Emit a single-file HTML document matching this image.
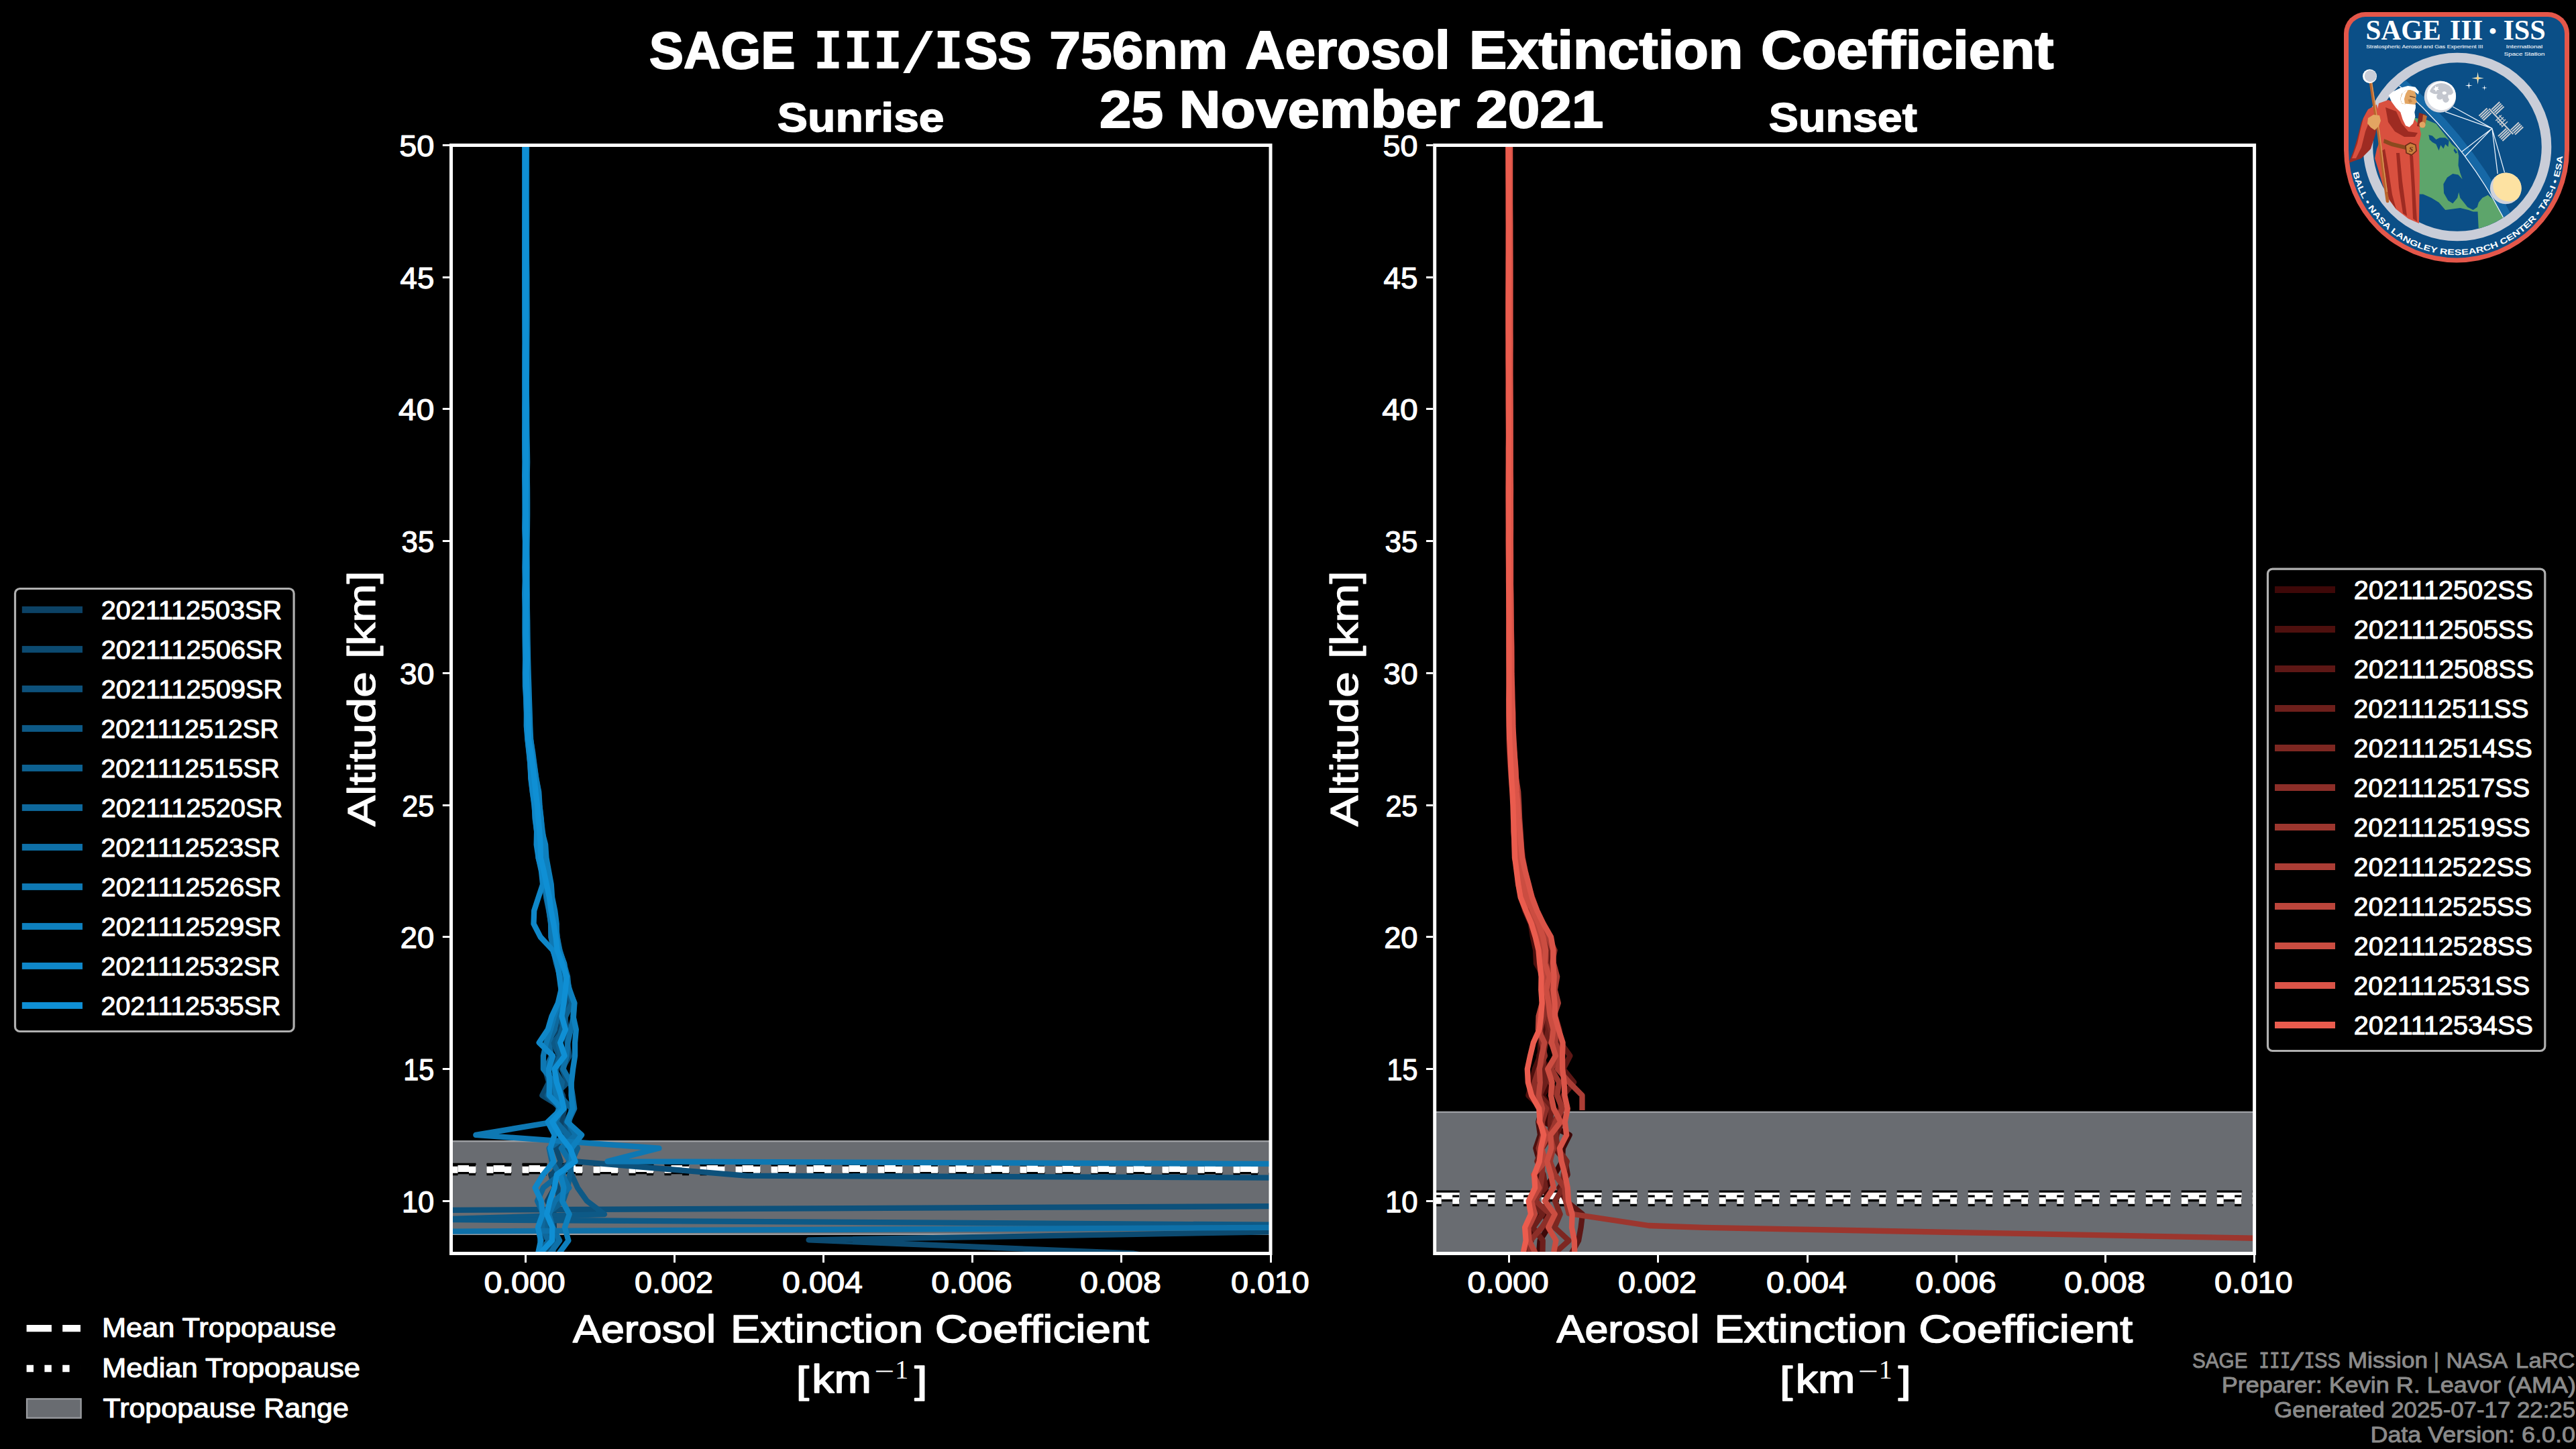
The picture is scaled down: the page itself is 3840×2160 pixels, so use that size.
<!DOCTYPE html>
<html><head><meta charset="utf-8"><title>SAGE III/ISS 756nm Aerosol Extinction Coefficient</title>
<style>html,body{margin:0;padding:0;background:#000;overflow:hidden}svg{display:block}</style></head>
<body>
<svg width="3840" height="2160" viewBox="0 0 3840 2160" font-family='"Liberation Sans", sans-serif'>
<rect width="3840" height="2160" fill="#000"/>
<text x="967.83" y="101.5" font-size="77.6" text-anchor="start" font-weight="bold" fill="#fff" stroke="#fff" stroke-width="1.94" stroke-linejoin="round" textLength="217.7" lengthAdjust="spacingAndGlyphs" >SAGE</text>
<text x="1212.36" y="101.5" font-size="75.9" text-anchor="start" font-weight="bold" fill="#fff" textLength="133.2" lengthAdjust="spacingAndGlyphs" font-family="'DejaVu Sans Mono', monospace">III</text><text x="1341.37" y="101.5" font-size="77" text-anchor="start" font-weight="bold" fill="#fff" textLength="54.7" lengthAdjust="spacingAndGlyphs" font-family="'DejaVu Sans Mono', monospace">/</text><text x="1391.57" y="101.5" font-size="75.9" text-anchor="start" font-weight="bold" fill="#fff" textLength="45.1" lengthAdjust="spacingAndGlyphs" font-family="'DejaVu Sans Mono', monospace">I</text><text x="1437.26" y="101.5" font-size="77.6" text-anchor="start" font-weight="bold" fill="#fff" stroke="#fff" stroke-width="1.94" stroke-linejoin="round" textLength="100.6" lengthAdjust="spacingAndGlyphs" >SS</text>
<text x="1564.36" y="101.5" font-size="78.6" text-anchor="start" font-weight="bold" fill="#fff" stroke="#fff" stroke-width="1.96" stroke-linejoin="round" textLength="266.1" lengthAdjust="spacingAndGlyphs" >756nm</text>
<text x="1856.23" y="101.5" font-size="78.8" text-anchor="start" font-weight="bold" fill="#fff" stroke="#fff" stroke-width="1.97" stroke-linejoin="round" textLength="305.6" lengthAdjust="spacingAndGlyphs" >Aerosol</text>
<text x="2190.12" y="101.5" font-size="78.8" text-anchor="start" font-weight="bold" fill="#fff" stroke="#fff" stroke-width="1.97" stroke-linejoin="round" textLength="408.3" lengthAdjust="spacingAndGlyphs" >Extinction</text>
<text x="2624.90" y="101.5" font-size="78.8" text-anchor="start" font-weight="bold" fill="#fff" stroke="#fff" stroke-width="1.97" stroke-linejoin="round" textLength="436.6" lengthAdjust="spacingAndGlyphs" >Coefficient</text>
<text x="1638.90" y="189.8" font-size="78.6" text-anchor="start" font-weight="bold" fill="#fff" stroke="#fff" stroke-width="1.96" stroke-linejoin="round" textLength="751.5" lengthAdjust="spacingAndGlyphs" >25 November 2021</text>
<text x="1158.80" y="195.9" font-size="61.2" text-anchor="start" font-weight="bold" fill="#fff" stroke="#fff" stroke-width="1.53" stroke-linejoin="round" textLength="248.8" lengthAdjust="spacingAndGlyphs" >Sunrise</text>
<text x="2636.82" y="195.9" font-size="61.2" text-anchor="start" font-weight="bold" fill="#fff" stroke="#fff" stroke-width="1.53" stroke-linejoin="round" textLength="221.0" lengthAdjust="spacingAndGlyphs" >Sunset</text>
<clipPath id="clipL"><rect x="672.5" y="216.5" width="1221.5" height="1652.0"/></clipPath>
<g clip-path="url(#clipL)">
<rect x="672.5" y="1701" width="1221.5" height="139" fill="#696c71"/>
<rect x="672.5" y="1700" width="1221.5" height="2.4" fill="#9c9ea2"/>
<rect x="672.5" y="1838.6" width="1221.5" height="2.4" fill="#9c9ea2"/>
<line x1="672.5" x2="1894.0" y1="1742.0" y2="1742.0" stroke="#000" stroke-width="16.7" stroke-dasharray="37 16"/>
<line x1="672.5" x2="1894.0" y1="1742.0" y2="1742.0" stroke="#fff" stroke-width="10" stroke-dasharray="37 16"/>
<line x1="672.5" x2="1894.0" y1="1743.8" y2="1743.8" stroke="#000" stroke-width="16.7" stroke-dasharray="10 16.5"/>
<line x1="672.5" x2="1894.0" y1="1743.8" y2="1743.8" stroke="#fff" stroke-width="10" stroke-dasharray="10 16.5"/>
<g fill="none" stroke-width="8.3" stroke-linejoin="round" stroke-linecap="butt">
<path d="M783.6,216.5 L783.7,236.2 L783.7,255.8 L783.7,275.5 L783.8,295.2 L783.7,314.9 L783.8,334.5 L783.8,354.2 L783.7,373.9 L783.8,393.6 L783.7,413.2 L783.7,432.9 L783.7,452.6 L783.8,472.2 L783.9,491.9 L784.0,511.6 L783.9,531.3 L783.9,550.9 L784.1,570.6 L784.1,590.3 L783.9,610.0 L784.1,629.6 L784.2,649.3 L784.0,669.0 L783.8,688.6 L783.9,708.3 L784.0,728.0 L784.1,747.7 L784.4,767.3 L784.2,787.0 L784.6,806.7 L784.3,826.4 L784.3,846.0 L784.6,865.7 L784.8,885.4 L784.9,905.0 L784.8,924.7 L784.8,944.4 L784.9,964.1 L785.1,983.7 L785.1,1003.4 L785.8,1023.1 L786.7,1042.8 L787.4,1062.4 L788.4,1082.1 L789.8,1101.8 L792.9,1121.4 L794.8,1141.1 L796.6,1160.8 L798.7,1180.5 L800.7,1200.1 L803.1,1219.8 L804.3,1239.5 L806.5,1259.1 L809.6,1278.8 L810.2,1298.5 L814.1,1318.2 L819.0,1337.8 L823.3,1357.5 L826.8,1377.2 L828.4,1396.9 L831.6,1416.5 L837.2,1436.2 L841.0,1455.9 L847.4,1475.5 L846.8,1495.2 L836.1,1514.9 L835.3,1534.6 L827.6,1554.2 L835.5,1573.9 L812.8,1593.6 L829.2,1613.3 L838.9,1632.9 L841.5,1652.6 L836.9,1672.3 L853.6,1691.9 L844.2,1711.6 L853.1,1731.3 L821.2,1751.0 L826.8,1770.6 L815.8,1790.3 L825.1,1810.0 L825.9,1829.7 L804.9,1849.3 L818.2,1869.0 L810.9,1888.7" stroke="#0c4265"/>
<path d="M783.0,216.5 L783.0,236.2 L782.9,255.8 L783.0,275.5 L783.1,295.2 L783.2,314.9 L783.3,334.5 L783.5,354.2 L783.6,373.9 L783.6,393.6 L783.8,413.2 L783.5,432.9 L783.5,452.6 L783.3,472.2 L783.2,491.9 L783.2,511.6 L783.1,531.3 L783.2,550.9 L783.1,570.6 L783.1,590.3 L783.5,610.0 L783.6,629.6 L783.6,649.3 L783.6,669.0 L784.0,688.6 L784.0,708.3 L784.0,728.0 L783.5,747.7 L783.5,767.3 L783.2,787.0 L783.5,806.7 L783.8,826.4 L783.5,846.0 L784.1,865.7 L784.3,885.4 L784.3,905.0 L784.1,924.7 L784.8,944.4 L784.7,964.1 L784.6,983.7 L784.7,1003.4 L785.1,1023.1 L785.8,1042.8 L785.5,1062.4 L786.6,1082.1 L788.2,1101.8 L790.9,1121.4 L792.9,1141.1 L795.1,1160.8 L798.6,1180.5 L800.6,1200.1 L802.5,1219.8 L805.0,1239.5 L805.8,1259.1 L805.3,1278.8 L809.1,1298.5 L811.1,1318.2 L816.3,1337.8 L819.9,1357.5 L822.4,1377.2 L825.4,1396.9 L829.2,1416.5 L835.1,1436.2 L842.4,1455.9 L843.3,1475.5 L846.4,1495.2 L842.3,1514.9 L844.6,1534.6 L825.3,1554.2 L835.8,1573.9 L812.5,1593.6 L818.1,1613.3 L808.3,1632.9 L840.3,1652.6 L822.4,1672.3 L837.7,1691.9 L828.8,1711.6 L835.7,1731.3 L823.4,1751.0 L831.5,1770.6 L832.6,1790.3 L824.0,1810.0 L818.2,1829.7 L826.9,1849.3 L809.0,1869.0 L803.2,1888.7" stroke="#0c4a70"/>
<path d="M1920.0,1836.0 L1205.6,1848.3 L1690.0,1868.5 L1760.0,1882.0" stroke="#0c4a70"/>
<path d="M784.1,216.5 L784.0,236.2 L784.0,255.8 L784.0,275.5 L783.9,295.2 L783.9,314.9 L783.9,334.5 L783.9,354.2 L783.9,373.9 L784.0,393.6 L784.2,413.2 L784.2,432.9 L784.2,452.6 L784.3,472.2 L784.2,491.9 L784.3,511.6 L784.1,531.3 L784.2,550.9 L783.9,570.6 L784.1,590.3 L784.0,610.0 L783.9,629.6 L784.3,649.3 L784.3,669.0 L784.2,688.6 L784.4,708.3 L784.7,728.0 L784.7,747.7 L784.9,767.3 L784.9,787.0 L784.9,806.7 L784.8,826.4 L784.9,846.0 L784.8,865.7 L784.8,885.4 L784.4,905.0 L785.0,924.7 L785.5,944.4 L785.5,964.1 L785.6,983.7 L786.3,1003.4 L786.4,1023.1 L787.5,1042.8 L788.9,1062.4 L788.6,1082.1 L790.2,1101.8 L793.1,1121.4 L794.8,1141.1 L797.3,1160.8 L800.0,1180.5 L801.3,1200.1 L803.6,1219.8 L806.1,1239.5 L808.8,1259.1 L810.5,1278.8 L813.9,1298.5 L816.6,1318.2 L820.2,1337.8 L824.8,1357.5 L827.5,1377.2 L828.4,1396.9 L830.1,1416.5 L839.9,1436.2 L845.0,1455.9 L846.6,1475.5 L843.2,1495.2 L841.5,1514.9 L844.8,1534.6 L845.5,1554.2 L848.7,1573.9 L837.8,1593.6 L846.3,1613.3 L826.4,1632.9 L853.8,1652.6 L844.0,1672.3 L844.6,1691.9 L846.0,1711.6 L858.0,1731.3 L1112.5,1752.7 L1914.0,1755.6" stroke="#0d517b"/>
<path d="M640.0,1804.0 L1920.0,1798.1" stroke="#0d517b"/>
<path d="M782.9,216.5 L782.8,236.2 L782.8,255.8 L782.8,275.5 L782.8,295.2 L782.9,314.9 L782.9,334.5 L782.9,354.2 L783.0,373.9 L783.1,393.6 L783.1,413.2 L783.1,432.9 L783.1,452.6 L783.1,472.2 L783.1,491.9 L783.0,511.6 L782.9,531.3 L783.0,550.9 L783.0,570.6 L782.9,590.3 L783.0,610.0 L783.1,629.6 L783.2,649.3 L783.3,669.0 L783.4,688.6 L783.4,708.3 L783.3,728.0 L783.1,747.7 L783.3,767.3 L783.4,787.0 L783.4,806.7 L783.3,826.4 L783.4,846.0 L783.2,865.7 L783.0,885.4 L783.5,905.0 L783.6,924.7 L784.1,944.4 L783.8,964.1 L783.4,983.7 L783.7,1003.4 L784.9,1023.1 L785.0,1042.8 L785.0,1062.4 L785.5,1082.1 L787.2,1101.8 L789.7,1121.4 L792.0,1141.1 L795.1,1160.8 L797.4,1180.5 L799.0,1200.1 L801.1,1219.8 L803.6,1239.5 L805.2,1259.1 L806.9,1278.8 L808.6,1298.5 L812.1,1318.2 L816.2,1337.8 L818.9,1357.5 L823.2,1377.2 L825.4,1396.9 L828.2,1416.5 L833.0,1436.2 L841.9,1455.9 L843.8,1475.5 L840.8,1495.2 L832.1,1514.9 L842.4,1534.6 L824.2,1554.2 L833.9,1573.9 L829.0,1593.6 L829.3,1613.3 L815.8,1632.9 L834.9,1652.6 L829.4,1672.3 L846.0,1691.9 L847.0,1711.6 L848.0,1731.3 L852.0,1751.0 L861.0,1770.6 L875.0,1790.3 L901.0,1810.0 L640.0,1818.0" stroke="#0d5986"/>
<path d="M640.0,1818.0 L1920.0,1825.9" stroke="#0d5986"/>
<path d="M784.0,216.5 L783.9,236.2 L784.0,255.8 L784.1,275.5 L784.2,295.2 L784.3,314.9 L784.4,334.5 L784.5,354.2 L784.6,373.9 L784.6,393.6 L784.6,413.2 L784.4,432.9 L784.3,452.6 L784.1,472.2 L784.2,491.9 L784.3,511.6 L784.1,531.3 L784.3,550.9 L784.5,570.6 L784.4,590.3 L784.5,610.0 L784.6,629.6 L784.8,649.3 L784.7,669.0 L784.8,688.6 L784.9,708.3 L784.9,728.0 L784.8,747.7 L785.0,767.3 L785.0,787.0 L784.6,806.7 L784.7,826.4 L784.8,846.0 L784.9,865.7 L785.3,885.4 L785.5,905.0 L785.8,924.7 L785.5,944.4 L785.5,964.1 L785.8,983.7 L785.9,1003.4 L786.5,1023.1 L787.2,1042.8 L787.6,1062.4 L788.9,1082.1 L790.5,1101.8 L793.1,1121.4 L795.5,1141.1 L798.4,1160.8 L799.8,1180.5 L802.4,1200.1 L805.1,1219.8 L806.1,1239.5 L808.6,1259.1 L810.5,1278.8 L812.6,1298.5 L816.4,1318.2 L820.1,1337.8 L824.5,1357.5 L828.6,1377.2 L830.8,1396.9 L832.5,1416.5 L839.3,1436.2 L844.9,1455.9 L848.5,1475.5 L852.6,1495.2 L843.1,1514.9 L837.3,1534.6 L831.7,1554.2 L836.2,1573.9 L826.0,1593.6 L838.0,1613.3 L834.2,1632.9 L851.9,1652.6 L848.4,1672.3 L852.8,1691.9 L861.0,1711.6 L852.2,1731.3 L849.2,1751.0 L846.3,1770.6 L839.5,1790.3 L815.0,1810.0 L813.0,1829.7 L827.1,1849.3 L823.6,1869.0 L844.9,1888.7" stroke="#0d6191"/>
<path d="M782.9,216.5 L782.8,236.2 L782.8,255.8 L782.7,275.5 L782.6,295.2 L782.4,314.9 L782.4,334.5 L782.3,354.2 L782.4,373.9 L782.6,393.6 L782.6,413.2 L782.8,432.9 L783.0,452.6 L783.0,472.2 L782.9,491.9 L783.0,511.6 L782.9,531.3 L782.9,550.9 L782.6,570.6 L782.7,590.3 L782.7,610.0 L782.5,629.6 L782.6,649.3 L782.6,669.0 L783.0,688.6 L782.9,708.3 L783.2,728.0 L783.2,747.7 L783.1,767.3 L783.3,787.0 L783.5,806.7 L783.2,826.4 L782.9,846.0 L783.0,865.7 L782.8,885.4 L783.0,905.0 L783.4,924.7 L783.5,944.4 L783.4,964.1 L784.2,983.7 L784.0,1003.4 L784.7,1023.1 L784.9,1042.8 L785.4,1062.4 L785.1,1082.1 L787.2,1101.8 L789.4,1121.4 L790.3,1141.1 L791.8,1160.8 L793.7,1180.5 L797.0,1200.1 L798.5,1219.8 L800.7,1239.5 L802.7,1259.1 L804.9,1278.8 L807.8,1298.5 L812.0,1318.2 L814.2,1337.8 L818.2,1357.5 L821.6,1377.2 L823.7,1396.9 L824.8,1416.5 L829.2,1436.2 L835.0,1455.9 L836.4,1475.5 L838.1,1495.2 L830.6,1514.9 L826.8,1534.6 L817.3,1554.2 L822.3,1573.9 L813.2,1593.6 L822.2,1613.3 L822.7,1632.9 L837.4,1652.6 L828.4,1672.3 L846.8,1691.9 L818.6,1711.6 L822.7,1731.3 L834.3,1751.0 L809.9,1770.6 L801.0,1790.3 L810.1,1810.0 L807.8,1829.7 L817.4,1849.3 L805.0,1869.0 L814.2,1888.7" stroke="#0e689c"/>
<path d="M784.3,216.5 L784.3,236.2 L784.3,255.8 L784.3,275.5 L784.3,295.2 L784.5,314.9 L784.6,334.5 L784.8,354.2 L784.9,373.9 L785.0,393.6 L785.0,413.2 L784.9,432.9 L784.7,452.6 L784.7,472.2 L784.7,491.9 L784.6,511.6 L784.6,531.3 L784.7,550.9 L784.6,570.6 L784.9,590.3 L785.2,610.0 L785.1,629.6 L785.3,649.3 L785.3,669.0 L785.6,688.6 L785.5,708.3 L785.5,728.0 L785.2,747.7 L785.1,767.3 L785.1,787.0 L784.8,806.7 L785.3,826.4 L785.5,846.0 L785.1,865.7 L785.7,885.4 L785.8,905.0 L786.2,924.7 L786.4,944.4 L786.2,964.1 L786.5,983.7 L787.0,1003.4 L787.3,1023.1 L787.7,1042.8 L788.1,1062.4 L788.7,1082.1 L790.8,1101.8 L794.2,1121.4 L796.7,1141.1 L799.4,1160.8 L803.3,1180.5 L804.5,1200.1 L806.2,1219.8 L808.9,1239.5 L811.0,1259.1 L811.7,1278.8 L814.3,1298.5 L818.6,1318.2 L822.1,1337.8 L824.2,1357.5 L828.2,1377.2 L830.6,1396.9 L834.5,1416.5 L840.6,1436.2 L846.1,1455.9 L848.0,1475.5 L856.4,1495.2 L855.0,1514.9 L850.8,1534.6 L846.5,1554.2 L844.7,1573.9 L839.5,1593.6 L850.5,1613.3 L853.5,1632.9 L856.2,1652.6 L847.0,1672.3 L858.1,1691.9 L836.8,1711.6 L849.6,1731.3 L838.1,1751.0 L848.3,1770.6 L827.0,1790.3 L818.3,1810.0 L824.0,1829.7 L834.2,1849.3 L819.6,1869.0 L834.6,1888.7" stroke="#0e70a8"/>
<path d="M640.0,1835.7 L1920.0,1829.7" stroke="#0e70a8"/>
<path d="M782.5,216.5 L782.6,236.2 L782.6,255.8 L782.6,275.5 L782.5,295.2 L782.4,314.9 L782.4,334.5 L782.3,354.2 L782.3,373.9 L782.4,393.6 L782.3,413.2 L782.5,432.9 L782.5,452.6 L782.6,472.2 L782.7,491.9 L782.8,511.6 L782.6,531.3 L782.4,550.9 L782.6,570.6 L782.6,590.3 L782.5,610.0 L782.8,629.6 L782.5,649.3 L782.5,669.0 L782.6,688.6 L782.7,708.3 L783.0,728.0 L782.7,747.7 L782.8,767.3 L782.3,787.0 L782.9,806.7 L782.9,826.4 L783.1,846.0 L783.3,865.7 L782.9,885.4 L782.8,905.0 L782.8,924.7 L782.7,944.4 L782.8,964.1 L783.2,983.7 L783.3,1003.4 L783.9,1023.1 L784.4,1042.8 L785.2,1062.4 L785.7,1082.1 L786.5,1101.8 L788.9,1121.4 L790.6,1141.1 L792.1,1160.8 L795.3,1180.5 L796.8,1200.1 L797.5,1219.8 L800.3,1239.5 L802.0,1259.1 L802.5,1278.8 L808.3,1298.5 L811.6,1318.2 L815.6,1337.8 L818.6,1357.5 L821.1,1377.2 L821.3,1396.9 L825.4,1416.5 L830.5,1436.2 L834.6,1455.9 L837.2,1475.5 L833.9,1495.2 L826.1,1514.9 L820.7,1534.6 L814.4,1554.2 L809.9,1573.9 L809.9,1593.6 L826.0,1613.3 L829.6,1632.9 L833.0,1652.6 L826.0,1672.3 L709.3,1691.9 L982.5,1711.6 L905.5,1731.3 L1914.0,1735.0" stroke="#0e78b3"/>
<path d="M785.0,216.5 L784.8,236.2 L784.7,255.8 L784.5,275.5 L784.4,295.2 L784.4,314.9 L784.5,334.5 L784.5,354.2 L784.8,373.9 L784.9,393.6 L785.2,413.2 L785.3,432.9 L785.4,452.6 L785.5,472.2 L785.4,491.9 L785.2,511.6 L785.1,531.3 L785.0,550.9 L784.8,570.6 L784.8,590.3 L784.9,610.0 L785.0,629.6 L785.1,649.3 L785.8,669.0 L786.1,688.6 L785.7,708.3 L786.0,728.0 L786.1,747.7 L786.1,767.3 L785.9,787.0 L785.6,806.7 L785.2,826.4 L785.3,846.0 L785.5,865.7 L785.2,885.4 L785.4,905.0 L785.9,924.7 L786.0,944.4 L786.7,964.1 L787.1,983.7 L787.6,1003.4 L788.3,1023.1 L788.9,1042.8 L789.6,1062.4 L790.2,1082.1 L791.1,1101.8 L793.5,1121.4 L796.3,1141.1 L799.3,1160.8 L802.7,1180.5 L804.1,1200.1 L806.7,1219.8 L808.0,1239.5 L813.1,1259.1 L814.4,1278.8 L818.0,1298.5 L821.7,1318.2 L823.1,1337.8 L827.2,1357.5 L829.7,1377.2 L829.6,1396.9 L833.4,1416.5 L841.2,1436.2 L843.3,1455.9 L849.1,1475.5 L856.1,1495.2 L854.4,1514.9 L858.8,1534.6 L857.1,1554.2 L857.1,1573.9 L854.1,1593.6 L851.8,1613.3 L851.5,1632.9 L853.7,1652.6 L845.5,1672.3 L867.1,1691.9 L851.9,1711.6 L851.7,1731.3 L835.4,1751.0 L840.4,1770.6 L838.1,1790.3 L848.7,1810.0 L841.9,1829.7 L847.4,1849.3 L832.8,1869.0 L846.2,1888.7" stroke="#0e80be"/>
<path d="M782.4,216.5 L782.4,236.2 L782.4,255.8 L782.4,275.5 L782.4,295.2 L782.3,314.9 L782.3,334.5 L782.2,354.2 L782.2,373.9 L782.2,393.6 L782.2,413.2 L782.3,432.9 L782.3,452.6 L782.4,472.2 L782.5,491.9 L782.6,511.6 L782.5,531.3 L782.5,550.9 L782.4,570.6 L782.6,590.3 L782.3,610.0 L782.4,629.6 L782.2,649.3 L782.4,669.0 L782.7,688.6 L782.2,708.3 L782.4,728.0 L782.7,747.7 L782.7,767.3 L782.6,787.0 L783.1,806.7 L782.9,826.4 L782.5,846.0 L782.8,865.7 L782.3,885.4 L782.8,905.0 L782.7,924.7 L782.8,944.4 L783.1,964.1 L783.1,983.7 L782.8,1003.4 L783.0,1023.1 L784.3,1042.8 L784.9,1062.4 L784.8,1082.1 L786.4,1101.8 L788.5,1121.4 L790.7,1141.1 L791.3,1160.8 L793.9,1180.5 L796.4,1200.1 L798.2,1219.8 L800.1,1239.5 L799.7,1259.1 L802.7,1278.8 L807.0,1298.5 L809.1,1318.2 L802.6,1337.8 L796.2,1357.5 L795.5,1377.2 L805.7,1396.9 L824.0,1416.5 L831.1,1436.2 L833.8,1455.9 L836.5,1475.5 L831.8,1495.2 L822.5,1514.9 L816.7,1534.6 L803.6,1554.2 L824.1,1573.9 L817.9,1593.6 L819.0,1613.3 L818.6,1632.9 L837.6,1652.6 L816.6,1672.3 L826.7,1691.9 L820.3,1711.6 L825.4,1731.3 L809.7,1751.0 L797.6,1770.6 L806.7,1790.3 L808.8,1810.0 L801.9,1829.7 L806.1,1849.3 L801.9,1869.0 L804.0,1888.7" stroke="#0f87c9"/>
<path d="M783.4,216.5 L783.4,236.2 L783.5,255.8 L783.6,275.5 L783.6,295.2 L783.7,314.9 L783.6,334.5 L783.7,354.2 L783.8,373.9 L783.7,393.6 L783.6,413.2 L783.6,432.9 L783.6,452.6 L783.5,472.2 L783.5,491.9 L783.6,511.6 L783.6,531.3 L783.8,550.9 L783.9,570.6 L784.0,590.3 L784.0,610.0 L784.1,629.6 L784.0,649.3 L783.9,669.0 L783.9,688.6 L783.9,708.3 L783.9,728.0 L783.6,747.7 L783.8,767.3 L784.0,787.0 L783.9,806.7 L784.1,826.4 L784.4,846.0 L784.4,865.7 L784.8,885.4 L784.1,905.0 L784.4,924.7 L784.2,944.4 L784.8,964.1 L785.5,983.7 L784.5,1003.4 L785.4,1023.1 L786.3,1042.8 L786.7,1062.4 L787.7,1082.1 L788.1,1101.8 L791.6,1121.4 L794.2,1141.1 L796.5,1160.8 L798.5,1180.5 L801.0,1200.1 L802.3,1219.8 L804.3,1239.5 L805.6,1259.1 L805.9,1278.8 L810.6,1298.5 L814.7,1318.2 L819.0,1337.8 L821.4,1357.5 L825.3,1377.2 L828.5,1396.9 L830.7,1416.5 L837.9,1436.2 L844.8,1455.9 L842.9,1475.5 L840.5,1495.2 L837.4,1514.9 L843.0,1534.6 L835.1,1554.2 L841.6,1573.9 L826.5,1593.6 L829.8,1613.3 L836.2,1632.9 L840.6,1652.6 L823.1,1672.3 L834.6,1691.9 L849.6,1711.6 L857.6,1731.3 L829.9,1751.0 L826.5,1770.6 L819.6,1790.3 L815.0,1810.0 L823.3,1829.7 L822.9,1849.3 L804.6,1869.0 L827.0,1888.7" stroke="#0f8fd4"/>
</g>
</g>
<rect x="672.5" y="216.5" width="1221.5" height="1652.0" fill="none" stroke="#fff" stroke-width="5"/>
<rect x="659.8" y="1789.0" width="10.2" height="3" fill="#fff"/>
<text x="598.88" y="1807.1" font-size="44.6" text-anchor="start" font-weight="normal" fill="#fff" stroke="#fff" stroke-width="1.25" stroke-linejoin="round" textLength="48.3" lengthAdjust="spacingAndGlyphs" >10</text>
<rect x="659.8" y="1592.0" width="10.2" height="3" fill="#fff"/>
<text x="601.22" y="1610.1" font-size="44.6" text-anchor="start" font-weight="normal" fill="#fff" stroke="#fff" stroke-width="1.25" stroke-linejoin="round" textLength="46.0" lengthAdjust="spacingAndGlyphs" >15</text>
<rect x="659.8" y="1395.0" width="10.2" height="3" fill="#fff"/>
<text x="596.88" y="1413.1" font-size="44.6" text-anchor="start" font-weight="normal" fill="#fff" stroke="#fff" stroke-width="1.25" stroke-linejoin="round" textLength="50.4" lengthAdjust="spacingAndGlyphs" >20</text>
<rect x="659.8" y="1199.0" width="10.2" height="3" fill="#fff"/>
<text x="599.19" y="1217.1" font-size="44.6" text-anchor="start" font-weight="normal" fill="#fff" stroke="#fff" stroke-width="1.25" stroke-linejoin="round" textLength="48.1" lengthAdjust="spacingAndGlyphs" >25</text>
<rect x="659.8" y="1002.0" width="10.2" height="3" fill="#fff"/>
<text x="596.04" y="1020.1" font-size="44.6" text-anchor="start" font-weight="normal" fill="#fff" stroke="#fff" stroke-width="1.25" stroke-linejoin="round" textLength="51.2" lengthAdjust="spacingAndGlyphs" >30</text>
<rect x="659.8" y="805.0" width="10.2" height="3" fill="#fff"/>
<text x="598.55" y="823.1" font-size="44.6" text-anchor="start" font-weight="normal" fill="#fff" stroke="#fff" stroke-width="1.25" stroke-linejoin="round" textLength="48.7" lengthAdjust="spacingAndGlyphs" >35</text>
<rect x="659.8" y="608.0" width="10.2" height="3" fill="#fff"/>
<text x="594.07" y="626.1" font-size="44.6" text-anchor="start" font-weight="normal" fill="#fff" stroke="#fff" stroke-width="1.25" stroke-linejoin="round" textLength="53.2" lengthAdjust="spacingAndGlyphs" >40</text>
<rect x="659.8" y="412.0" width="10.2" height="3" fill="#fff"/>
<text x="596.60" y="430.1" font-size="44.6" text-anchor="start" font-weight="normal" fill="#fff" stroke="#fff" stroke-width="1.25" stroke-linejoin="round" textLength="50.7" lengthAdjust="spacingAndGlyphs" >45</text>
<rect x="659.8" y="215.0" width="10.2" height="3" fill="#fff"/>
<text x="595.15" y="233.1" font-size="44.6" text-anchor="start" font-weight="normal" fill="#fff" stroke="#fff" stroke-width="1.25" stroke-linejoin="round" textLength="52.2" lengthAdjust="spacingAndGlyphs" >50</text>
<rect x="782.0" y="1871.0" width="3" height="11.2" fill="#fff"/>
<text x="721.60" y="1927.4" font-size="44.6" text-anchor="start" font-weight="normal" fill="#fff" stroke="#fff" stroke-width="1.25" stroke-linejoin="round" textLength="121.2" lengthAdjust="spacingAndGlyphs" >0.000</text>
<rect x="1004.0" y="1871.0" width="3" height="11.2" fill="#fff"/>
<text x="946.02" y="1927.4" font-size="44.6" text-anchor="start" font-weight="normal" fill="#fff" stroke="#fff" stroke-width="1.25" stroke-linejoin="round" textLength="117.0" lengthAdjust="spacingAndGlyphs" >0.002</text>
<rect x="1226.0" y="1871.0" width="3" height="11.2" fill="#fff"/>
<text x="1165.90" y="1927.4" font-size="44.6" text-anchor="start" font-weight="normal" fill="#fff" stroke="#fff" stroke-width="1.25" stroke-linejoin="round" textLength="120.1" lengthAdjust="spacingAndGlyphs" >0.004</text>
<rect x="1448.0" y="1871.0" width="3" height="11.2" fill="#fff"/>
<text x="1388.15" y="1927.4" font-size="44.6" text-anchor="start" font-weight="normal" fill="#fff" stroke="#fff" stroke-width="1.25" stroke-linejoin="round" textLength="120.8" lengthAdjust="spacingAndGlyphs" >0.006</text>
<rect x="1670.0" y="1871.0" width="3" height="11.2" fill="#fff"/>
<text x="1609.90" y="1927.4" font-size="44.6" text-anchor="start" font-weight="normal" fill="#fff" stroke="#fff" stroke-width="1.25" stroke-linejoin="round" textLength="120.9" lengthAdjust="spacingAndGlyphs" >0.008</text>
<rect x="1893.0" y="1871.0" width="3" height="11.2" fill="#fff"/>
<text x="1835.04" y="1927.4" font-size="44.6" text-anchor="start" font-weight="normal" fill="#fff" stroke="#fff" stroke-width="1.25" stroke-linejoin="round" textLength="116.7" lengthAdjust="spacingAndGlyphs" >0.010</text>
<clipPath id="clipR"><rect x="2138.7" y="216.5" width="1221.9" height="1652.0"/></clipPath>
<g clip-path="url(#clipR)">
<rect x="2138.7" y="1657.6" width="1221.9" height="242.4000000000001" fill="#696c71"/>
<rect x="2138.7" y="1656.6" width="1221.9" height="2.4" fill="#9c9ea2"/>
<line x1="2138.7" x2="3360.6" y1="1782.8" y2="1782.8" stroke="#000" stroke-width="16.7" stroke-dasharray="37 16"/>
<line x1="2138.7" x2="3360.6" y1="1782.8" y2="1782.8" stroke="#fff" stroke-width="10" stroke-dasharray="37 16"/>
<line x1="2138.7" x2="3360.6" y1="1789.8" y2="1789.8" stroke="#000" stroke-width="16.7" stroke-dasharray="10 16.5"/>
<line x1="2138.7" x2="3360.6" y1="1789.8" y2="1789.8" stroke="#fff" stroke-width="10" stroke-dasharray="10 16.5"/>
<g fill="none" stroke-width="8.3" stroke-linejoin="round" stroke-linecap="butt">
<path d="M2249.6,216.5 L2249.6,236.2 L2249.7,255.8 L2249.8,275.5 L2250.0,295.2 L2250.1,314.9 L2250.2,334.5 L2250.4,354.2 L2250.4,373.9 L2250.4,393.6 L2250.3,413.2 L2250.2,432.9 L2250.0,452.6 L2249.9,472.2 L2249.9,491.9 L2249.8,511.6 L2249.7,531.3 L2249.9,550.9 L2250.2,570.6 L2250.4,590.3 L2250.7,610.0 L2250.6,629.6 L2250.7,649.3 L2250.8,669.0 L2250.6,688.6 L2250.1,708.3 L2250.3,728.0 L2250.6,747.7 L2250.4,767.3 L2250.1,787.0 L2250.2,806.7 L2250.5,826.4 L2251.1,846.0 L2251.1,865.7 L2251.2,885.4 L2251.7,905.0 L2251.6,924.7 L2252.1,944.4 L2251.7,964.1 L2251.5,983.7 L2251.7,1003.4 L2252.1,1023.1 L2252.1,1042.8 L2252.2,1062.4 L2251.7,1082.1 L2252.7,1101.8 L2254.2,1121.4 L2255.7,1141.1 L2257.8,1160.8 L2258.8,1180.5 L2260.7,1200.1 L2261.6,1219.8 L2262.1,1239.5 L2263.1,1259.1 L2264.2,1278.8 L2267.9,1298.5 L2270.0,1318.2 L2273.4,1337.8 L2279.7,1357.5 L2293.1,1377.2 L2303.6,1396.9 L2307.2,1416.5 L2306.4,1436.2 L2308.8,1455.9 L2308.8,1475.5 L2312.0,1495.2 L2316.9,1514.9 L2315.4,1534.6 L2303.1,1554.2 L2293.8,1573.9 L2309.2,1593.6 L2313.4,1613.3 L2299.4,1632.9 L2313.8,1652.6 L2301.1,1672.3 L2339.7,1691.9 L2329.8,1711.6 L2328.8,1731.3 L2317.3,1751.0 L2304.0,1770.6 L2306.7,1790.3 L2303.1,1810.0 L2307.8,1829.7 L2295.6,1849.3 L2294.0,1869.0 L2315.9,1888.7" stroke="#3e0808"/>
<path d="M2248.8,216.5 L2248.6,236.2 L2248.5,255.8 L2248.4,275.5 L2248.3,295.2 L2248.4,314.9 L2248.5,334.5 L2248.6,354.2 L2248.9,373.9 L2249.1,393.6 L2249.3,413.2 L2249.2,432.9 L2249.1,452.6 L2249.0,472.2 L2248.8,491.9 L2248.6,511.6 L2248.3,531.3 L2248.4,550.9 L2248.5,570.6 L2248.6,590.3 L2248.8,610.0 L2248.9,629.6 L2248.9,649.3 L2249.2,669.0 L2249.3,688.6 L2249.2,708.3 L2249.0,728.0 L2248.9,747.7 L2249.0,767.3 L2248.9,787.0 L2248.7,806.7 L2248.9,826.4 L2248.8,846.0 L2248.9,865.7 L2249.2,885.4 L2249.2,905.0 L2249.2,924.7 L2250.0,944.4 L2250.0,964.1 L2250.6,983.7 L2250.5,1003.4 L2250.6,1023.1 L2250.4,1042.8 L2249.2,1062.4 L2249.5,1082.1 L2249.3,1101.8 L2250.0,1121.4 L2251.1,1141.1 L2252.9,1160.8 L2254.6,1180.5 L2256.3,1200.1 L2256.4,1219.8 L2258.0,1239.5 L2257.6,1259.1 L2259.5,1278.8 L2263.5,1298.5 L2264.5,1318.2 L2267.2,1337.8 L2273.3,1357.5 L2281.8,1377.2 L2284.9,1396.9 L2289.1,1416.5 L2290.0,1436.2 L2301.1,1455.9 L2301.3,1475.5 L2303.3,1495.2 L2301.5,1514.9 L2302.4,1534.6 L2296.3,1554.2 L2295.7,1573.9 L2287.8,1593.6 L2283.1,1613.3 L2278.3,1632.9 L2298.9,1652.6 L2293.2,1672.3 L2296.0,1691.9 L2289.3,1711.6 L2294.8,1731.3 L2293.8,1751.0 L2292.0,1770.6 L2290.5,1790.3 L2297.2,1810.0 L2282.2,1829.7 L2282.7,1849.3 L2271.6,1869.0 L2270.4,1888.7" stroke="#4e100e"/>
<path d="M2251.1,216.5 L2251.0,236.2 L2250.9,255.8 L2250.8,275.5 L2250.8,295.2 L2250.7,314.9 L2250.8,334.5 L2250.8,354.2 L2251.0,373.9 L2251.2,393.6 L2251.3,413.2 L2251.3,432.9 L2251.4,452.6 L2251.4,472.2 L2251.3,491.9 L2251.4,511.6 L2251.3,531.3 L2251.1,550.9 L2251.2,570.6 L2251.0,590.3 L2251.2,610.0 L2251.3,629.6 L2251.2,649.3 L2251.3,669.0 L2251.5,688.6 L2252.0,708.3 L2252.2,728.0 L2251.9,747.7 L2252.1,767.3 L2251.9,787.0 L2251.7,806.7 L2251.5,826.4 L2251.5,846.0 L2251.2,865.7 L2251.4,885.4 L2251.6,905.0 L2252.3,924.7 L2253.1,944.4 L2253.9,964.1 L2253.6,983.7 L2253.4,1003.4 L2254.0,1023.1 L2254.3,1042.8 L2255.5,1062.4 L2255.5,1082.1 L2255.4,1101.8 L2257.0,1121.4 L2258.1,1141.1 L2258.3,1160.8 L2259.9,1180.5 L2261.9,1200.1 L2263.9,1219.8 L2265.9,1239.5 L2267.8,1259.1 L2270.1,1278.8 L2273.6,1298.5 L2277.4,1318.2 L2284.2,1337.8 L2291.2,1357.5 L2299.8,1377.2 L2305.5,1396.9 L2310.9,1416.5 L2312.6,1436.2 L2313.5,1455.9 L2315.8,1475.5 L2317.1,1495.2 L2318.6,1514.9 L2324.6,1534.6 L2326.4,1554.2 L2340.4,1573.9 L2330.4,1593.6 L2346.2,1613.3 L2330.3,1632.9 L2325.8,1652.6 L2327.7,1672.3 L2320.4,1691.9 L2317.8,1711.6 L2333.4,1731.3 L2336.8,1751.0 L2324.4,1770.6 L2334.5,1790.3 L2359.0,1810.0 L2356.6,1829.7 L2353.1,1849.3 L2342.3,1869.0 L2346.2,1888.7" stroke="#5d1715"/>
<path d="M2249.4,216.5 L2249.4,236.2 L2249.5,255.8 L2249.5,275.5 L2249.5,295.2 L2249.5,314.9 L2249.5,334.5 L2249.5,354.2 L2249.5,373.9 L2249.5,393.6 L2249.5,413.2 L2249.5,432.9 L2249.7,452.6 L2249.6,472.2 L2249.6,491.9 L2249.7,511.6 L2249.7,531.3 L2249.8,550.9 L2249.8,570.6 L2249.5,590.3 L2249.5,610.0 L2249.7,629.6 L2249.8,649.3 L2250.0,669.0 L2249.9,688.6 L2249.8,708.3 L2249.8,728.0 L2249.8,747.7 L2249.9,767.3 L2250.1,787.0 L2250.0,806.7 L2249.9,826.4 L2249.9,846.0 L2250.3,865.7 L2250.5,885.4 L2250.6,905.0 L2250.8,924.7 L2250.9,944.4 L2250.8,964.1 L2251.0,983.7 L2250.8,1003.4 L2251.0,1023.1 L2251.1,1042.8 L2251.7,1062.4 L2251.6,1082.1 L2252.2,1101.8 L2253.5,1121.4 L2255.1,1141.1 L2255.3,1160.8 L2256.0,1180.5 L2257.9,1200.1 L2258.2,1219.8 L2260.0,1239.5 L2260.6,1259.1 L2261.8,1278.8 L2263.7,1298.5 L2269.2,1318.2 L2272.0,1337.8 L2278.6,1357.5 L2291.4,1377.2 L2298.4,1396.9 L2307.8,1416.5 L2303.8,1436.2 L2305.3,1455.9 L2303.3,1475.5 L2310.0,1495.2 L2305.2,1514.9 L2308.1,1534.6 L2304.0,1554.2 L2300.5,1573.9 L2301.1,1593.6 L2304.0,1613.3 L2295.4,1632.9 L2312.7,1652.6 L2310.8,1672.3 L2312.0,1691.9 L2298.8,1711.6 L2291.4,1731.3 L2300.8,1751.0 L2303.8,1770.6 L2285.8,1790.3 L2299.4,1810.0 L2285.1,1829.7 L2299.8,1849.3 L2299.4,1869.0 L2307.6,1888.7" stroke="#6d1f1b"/>
<path d="M2250.1,216.5 L2250.2,236.2 L2250.4,255.8 L2250.6,275.5 L2250.7,295.2 L2250.9,314.9 L2251.0,334.5 L2250.9,354.2 L2250.9,373.9 L2250.8,393.6 L2250.8,413.2 L2250.6,432.9 L2250.3,452.6 L2250.3,472.2 L2250.3,491.9 L2250.6,511.6 L2250.6,531.3 L2250.8,550.9 L2251.0,570.6 L2251.2,590.3 L2251.2,610.0 L2251.1,629.6 L2251.2,649.3 L2251.3,669.0 L2251.0,688.6 L2250.7,708.3 L2250.7,728.0 L2250.8,747.7 L2250.8,767.3 L2250.9,787.0 L2251.4,806.7 L2251.3,826.4 L2251.5,846.0 L2251.4,865.7 L2251.7,885.4 L2251.8,905.0 L2251.9,924.7 L2251.9,944.4 L2252.5,964.1 L2252.2,983.7 L2252.2,1003.4 L2253.0,1023.1 L2253.0,1042.8 L2252.8,1062.4 L2254.0,1082.1 L2254.7,1101.8 L2257.3,1121.4 L2257.8,1141.1 L2259.1,1160.8 L2259.7,1180.5 L2261.5,1200.1 L2262.0,1219.8 L2263.3,1239.5 L2264.1,1259.1 L2264.7,1278.8 L2269.8,1298.5 L2274.5,1318.2 L2278.4,1337.8 L2285.8,1357.5 L2295.4,1377.2 L2307.8,1396.9 L2317.7,1416.5 L2313.5,1436.2 L2315.0,1455.9 L2311.1,1475.5 L2311.3,1495.2 L2306.8,1514.9 L2311.8,1534.6 L2317.5,1554.2 L2318.3,1573.9 L2311.8,1593.6 L2311.2,1613.3 L2321.3,1632.9 L2328.6,1652.6 L2316.8,1672.3 L2319.3,1691.9 L2321.8,1711.6 L2335.8,1731.3 L2330.6,1751.0 L2329.8,1770.6 L2318.0,1790.3 L2325.7,1810.0 L2317.4,1829.7 L2338.6,1849.3 L2316.7,1869.0 L2325.1,1888.7" stroke="#7d2721"/>
<path d="M2248.7,216.5 L2248.7,236.2 L2248.9,255.8 L2249.1,275.5 L2249.2,295.2 L2249.4,314.9 L2249.6,334.5 L2249.6,354.2 L2249.6,373.9 L2249.5,393.6 L2249.3,413.2 L2249.1,432.9 L2248.8,452.6 L2248.7,472.2 L2248.8,491.9 L2248.8,511.6 L2248.8,531.3 L2249.1,550.9 L2249.3,570.6 L2249.6,590.3 L2249.7,610.0 L2249.6,629.6 L2249.6,649.3 L2249.8,669.0 L2249.4,688.6 L2249.2,708.3 L2249.0,728.0 L2249.0,747.7 L2249.1,767.3 L2249.4,787.0 L2249.1,806.7 L2249.7,826.4 L2249.9,846.0 L2250.0,865.7 L2250.7,885.4 L2250.5,905.0 L2250.9,924.7 L2250.7,944.4 L2250.1,964.1 L2250.2,983.7 L2250.1,1003.4 L2249.9,1023.1 L2249.1,1042.8 L2249.7,1062.4 L2250.2,1082.1 L2250.8,1101.8 L2253.4,1121.4 L2254.3,1141.1 L2255.4,1160.8 L2256.4,1180.5 L2257.0,1200.1 L2257.6,1219.8 L2258.6,1239.5 L2259.1,1259.1 L2258.7,1278.8 L2261.7,1298.5 L2263.1,1318.2 L2268.1,1337.8 L2275.0,1357.5 L2285.7,1377.2 L2292.9,1396.9 L2299.0,1416.5 L2300.9,1436.2 L2302.7,1455.9 L2307.4,1475.5 L2306.2,1495.2 L2301.0,1514.9 L2296.0,1534.6 L2298.4,1554.2 L2303.0,1573.9 L2293.9,1593.6 L2287.5,1613.3 L2288.3,1632.9 L2305.2,1652.6 L2299.0,1672.3 L2299.5,1691.9 L2293.6,1711.6 L2299.1,1731.3 L2298.7,1751.0 L2296.0,1770.6 L2289.2,1790.3 L2310.7,1810.0 L2298.4,1829.7 L2281.4,1849.3 L2280.3,1869.0 L2286.6,1888.7" stroke="#8c2e28"/>
<path d="M2250.3,216.5 L2250.2,236.2 L2250.1,255.8 L2250.1,275.5 L2250.1,295.2 L2250.1,314.9 L2250.1,334.5 L2250.1,354.2 L2250.2,373.9 L2250.4,393.6 L2250.5,413.2 L2250.6,432.9 L2250.6,452.6 L2250.4,472.2 L2250.5,491.9 L2250.5,511.6 L2250.4,531.3 L2250.2,550.9 L2250.2,570.6 L2250.2,590.3 L2250.2,610.0 L2250.5,629.6 L2250.6,649.3 L2250.6,669.0 L2250.6,688.6 L2250.5,708.3 L2250.8,728.0 L2251.1,747.7 L2251.0,767.3 L2250.5,787.0 L2250.5,806.7 L2250.8,826.4 L2251.1,846.0 L2251.1,865.7 L2251.0,885.4 L2251.2,905.0 L2251.2,924.7 L2251.6,944.4 L2251.9,964.1 L2252.1,983.7 L2252.4,1003.4 L2252.7,1023.1 L2253.1,1042.8 L2253.7,1062.4 L2253.8,1082.1 L2254.1,1101.8 L2254.8,1121.4 L2255.1,1141.1 L2256.8,1160.8 L2258.6,1180.5 L2259.5,1200.1 L2262.2,1219.8 L2263.2,1239.5 L2265.1,1259.1 L2266.2,1278.8 L2268.9,1298.5 L2275.8,1318.2 L2276.7,1337.8 L2285.7,1357.5 L2292.7,1377.2 L2301.5,1396.9 L2304.4,1416.5 L2304.3,1436.2 L2311.7,1455.9 L2313.5,1475.5 L2311.7,1495.2 L2310.9,1514.9 L2320.4,1534.6 L2312.0,1554.2 L2323.2,1573.9 L2312.6,1593.6 L2324.1,1613.3 L2321.2,1632.9 L2329.1,1652.6 L2319.0,1672.3 L2310.4,1691.9 L2315.5,1711.6 L2310.5,1731.3 L2318.0,1751.0 L2332.4,1770.6 L2334.0,1790.3 L2338.7,1809.0 L2457.9,1827.0 L2540.0,1829.8 L3400.0,1846.5" stroke="#9c362e"/>
<path d="M2250.4,216.5 L2250.4,236.2 L2250.4,255.8 L2250.6,275.5 L2250.8,295.2 L2251.0,314.9 L2251.2,334.5 L2251.3,354.2 L2251.4,373.9 L2251.4,393.6 L2251.3,413.2 L2251.2,432.9 L2250.9,452.6 L2250.7,472.2 L2250.7,491.9 L2250.8,511.6 L2250.6,531.3 L2250.8,550.9 L2251.0,570.6 L2251.4,590.3 L2251.8,610.0 L2251.8,629.6 L2251.7,649.3 L2251.8,669.0 L2251.6,688.6 L2251.3,708.3 L2251.4,728.0 L2251.1,747.7 L2251.2,767.3 L2250.9,787.0 L2251.4,806.7 L2251.2,826.4 L2251.8,846.0 L2251.7,865.7 L2252.4,885.4 L2252.5,905.0 L2252.4,924.7 L2252.8,944.4 L2253.0,964.1 L2252.8,983.7 L2252.7,1003.4 L2253.1,1023.1 L2253.2,1042.8 L2252.5,1062.4 L2253.6,1082.1 L2255.1,1101.8 L2256.9,1121.4 L2259.1,1141.1 L2260.1,1160.8 L2263.2,1180.5 L2264.3,1200.1 L2265.1,1219.8 L2266.5,1239.5 L2267.7,1259.1 L2268.0,1278.8 L2270.4,1298.5 L2275.6,1318.2 L2279.5,1337.8 L2284.9,1357.5 L2295.1,1377.2 L2308.5,1396.9 L2315.0,1416.5 L2315.9,1436.2 L2321.2,1455.9 L2317.8,1475.5 L2322.9,1495.2 L2316.3,1514.9 L2318.9,1534.6 L2318.5,1554.2 L2326.6,1573.9 L2322.0,1593.6 L2339.0,1613.3 L2358.5,1632.9 L2358.5,1655.0" stroke="#ab3d35"/>
<path d="M2248.8,216.5 L2248.9,236.2 L2249.1,255.8 L2249.2,275.5 L2249.2,295.2 L2249.2,314.9 L2249.2,334.5 L2249.0,354.2 L2248.9,373.9 L2248.8,393.6 L2248.7,413.2 L2248.6,432.9 L2248.7,452.6 L2248.8,472.2 L2248.9,491.9 L2249.1,511.6 L2249.3,531.3 L2249.2,550.9 L2249.1,570.6 L2249.0,590.3 L2249.1,610.0 L2249.2,629.6 L2249.2,649.3 L2249.1,669.0 L2249.1,688.6 L2248.9,708.3 L2249.0,728.0 L2248.9,747.7 L2249.2,767.3 L2249.4,787.0 L2249.5,806.7 L2249.6,826.4 L2249.5,846.0 L2249.7,865.7 L2249.8,885.4 L2249.7,905.0 L2249.8,924.7 L2249.5,944.4 L2249.6,964.1 L2249.5,983.7 L2249.8,1003.4 L2249.9,1023.1 L2250.2,1042.8 L2250.4,1062.4 L2250.5,1082.1 L2251.3,1101.8 L2252.9,1121.4 L2254.2,1141.1 L2254.4,1160.8 L2255.3,1180.5 L2256.1,1200.1 L2256.7,1219.8 L2256.4,1239.5 L2257.7,1259.1 L2257.9,1278.8 L2262.9,1298.5 L2266.6,1318.2 L2270.4,1337.8 L2274.9,1357.5 L2286.2,1377.2 L2294.5,1396.9 L2296.2,1416.5 L2298.4,1436.2 L2300.7,1455.9 L2298.0,1475.5 L2298.9,1495.2 L2293.6,1514.9 L2292.9,1534.6 L2302.3,1554.2 L2298.1,1573.9 L2294.8,1593.6 L2295.8,1613.3 L2293.8,1632.9 L2299.2,1652.6 L2294.4,1672.3 L2307.2,1691.9 L2298.1,1711.6 L2303.5,1731.3 L2286.2,1751.0 L2294.4,1770.6 L2283.0,1790.3 L2288.0,1810.0 L2278.3,1829.7 L2279.5,1849.3 L2289.3,1869.0 L2290.4,1888.7" stroke="#bb453b"/>
<path d="M2249.8,216.5 L2249.9,236.2 L2250.0,255.8 L2250.1,275.5 L2250.1,295.2 L2250.0,314.9 L2250.0,334.5 L2249.9,354.2 L2249.8,373.9 L2249.7,393.6 L2249.7,413.2 L2249.8,432.9 L2249.8,452.6 L2249.9,472.2 L2250.0,491.9 L2250.1,511.6 L2250.3,531.3 L2250.3,550.9 L2250.2,570.6 L2250.2,590.3 L2250.2,610.0 L2250.0,629.6 L2249.9,649.3 L2250.0,669.0 L2250.0,688.6 L2250.0,708.3 L2250.0,728.0 L2250.3,747.7 L2250.6,767.3 L2250.6,787.0 L2250.6,806.7 L2250.6,826.4 L2250.8,846.0 L2250.8,865.7 L2250.6,885.4 L2250.9,905.0 L2251.0,924.7 L2251.0,944.4 L2250.7,964.1 L2251.0,983.7 L2251.4,1003.4 L2251.5,1023.1 L2252.3,1042.8 L2253.0,1062.4 L2253.4,1082.1 L2253.7,1101.8 L2254.6,1121.4 L2256.1,1141.1 L2257.1,1160.8 L2258.1,1180.5 L2259.1,1200.1 L2259.6,1219.8 L2260.4,1239.5 L2260.7,1259.1 L2263.3,1278.8 L2268.8,1298.5 L2271.6,1318.2 L2275.4,1337.8 L2284.5,1357.5 L2293.7,1377.2 L2300.2,1396.9 L2304.0,1416.5 L2302.9,1436.2 L2309.5,1455.9 L2304.9,1475.5 L2308.4,1495.2 L2310.8,1514.9 L2315.6,1534.6 L2312.9,1554.2 L2318.9,1573.9 L2307.2,1593.6 L2313.6,1613.3 L2311.9,1632.9 L2316.2,1652.6 L2326.5,1672.3 L2311.4,1691.9 L2312.6,1711.6 L2306.2,1731.3 L2311.9,1751.0 L2315.9,1770.6 L2302.8,1790.3 L2317.8,1810.0 L2308.1,1829.7 L2319.4,1849.3 L2315.8,1869.0 L2317.0,1888.7" stroke="#cb4d41"/>
<path d="M2251.0,216.5 L2251.1,236.2 L2251.1,255.8 L2251.1,275.5 L2251.1,295.2 L2251.1,314.9 L2251.1,334.5 L2251.1,354.2 L2251.1,373.9 L2251.2,393.6 L2251.3,413.2 L2251.3,432.9 L2251.4,452.6 L2251.4,472.2 L2251.4,491.9 L2251.5,511.6 L2251.4,531.3 L2251.4,550.9 L2251.4,570.6 L2251.4,590.3 L2251.4,610.0 L2251.5,629.6 L2251.6,649.3 L2251.6,669.0 L2251.7,688.6 L2251.7,708.3 L2251.9,728.0 L2251.9,747.7 L2251.9,767.3 L2252.0,787.0 L2251.9,806.7 L2252.0,826.4 L2252.0,846.0 L2252.0,865.7 L2251.9,885.4 L2252.2,905.0 L2252.5,924.7 L2252.6,944.4 L2252.9,964.1 L2253.3,983.7 L2253.4,1003.4 L2254.0,1023.1 L2254.4,1042.8 L2255.0,1062.4 L2255.3,1082.1 L2256.4,1101.8 L2257.6,1121.4 L2258.8,1141.1 L2260.0,1160.8 L2260.8,1180.5 L2262.5,1200.1 L2263.8,1219.8 L2265.6,1239.5 L2267.3,1259.1 L2269.2,1278.8 L2273.6,1298.5 L2278.8,1318.2 L2283.7,1337.8 L2291.3,1357.5 L2300.9,1377.2 L2312.1,1396.9 L2315.5,1416.5 L2315.1,1436.2 L2316.7,1455.9 L2315.6,1475.5 L2317.6,1495.2 L2318.0,1514.9 L2323.3,1534.6 L2329.6,1554.2 L2329.0,1573.9 L2329.2,1593.6 L2331.6,1613.3 L2332.4,1632.9 L2336.8,1652.6 L2332.8,1672.3 L2335.2,1691.9 L2325.0,1711.6 L2327.6,1731.3 L2332.9,1751.0 L2336.8,1770.6 L2338.0,1790.3 L2343.6,1810.0 L2343.0,1829.7 L2346.8,1849.3 L2347.3,1869.0 L2353.0,1888.7" stroke="#da5448"/>
<path d="M2248.4,216.5 L2248.5,236.2 L2248.5,255.8 L2248.6,275.5 L2248.7,295.2 L2248.7,314.9 L2248.8,334.5 L2248.8,354.2 L2248.8,373.9 L2248.7,393.6 L2248.7,413.2 L2248.6,432.9 L2248.5,452.6 L2248.5,472.2 L2248.5,491.9 L2248.6,511.6 L2248.6,531.3 L2248.7,550.9 L2248.8,570.6 L2248.8,590.3 L2248.8,610.0 L2248.9,629.6 L2249.0,649.3 L2248.8,669.0 L2248.8,688.6 L2248.8,708.3 L2248.7,728.0 L2248.8,747.7 L2248.7,767.3 L2248.8,787.0 L2248.8,806.7 L2248.9,826.4 L2249.1,846.0 L2249.1,865.7 L2249.2,885.4 L2249.3,905.0 L2249.4,924.7 L2249.4,944.4 L2249.4,964.1 L2249.5,983.7 L2249.5,1003.4 L2249.5,1023.1 L2249.4,1042.8 L2249.4,1062.4 L2249.6,1082.1 L2250.2,1101.8 L2251.1,1121.4 L2252.1,1141.1 L2253.1,1160.8 L2254.4,1180.5 L2255.4,1200.1 L2256.0,1219.8 L2256.9,1239.5 L2257.5,1259.1 L2258.2,1278.8 L2260.7,1298.5 L2263.3,1318.2 L2266.7,1337.8 L2274.6,1357.5 L2282.9,1377.2 L2288.8,1396.9 L2293.5,1416.5 L2295.2,1436.2 L2297.6,1455.9 L2297.3,1475.5 L2298.7,1495.2 L2297.1,1514.9 L2294.7,1534.6 L2285.8,1554.2 L2281.0,1573.9 L2276.8,1593.6 L2277.8,1613.3 L2283.1,1632.9 L2294.3,1652.6 L2295.5,1672.3 L2301.3,1691.9 L2296.9,1711.6 L2294.7,1731.3 L2287.1,1751.0 L2288.2,1770.6 L2278.7,1790.3 L2282.0,1810.0 L2273.1,1829.7 L2274.6,1849.3 L2270.4,1869.0 L2273.8,1888.7" stroke="#ea5c4e"/>
</g>
</g>
<rect x="2138.7" y="216.5" width="1221.9" height="1652.0" fill="none" stroke="#fff" stroke-width="5"/>
<rect x="2126.0" y="1789.0" width="10.2" height="3" fill="#fff"/>
<text x="2064.98" y="1807.1" font-size="44.6" text-anchor="start" font-weight="normal" fill="#fff" stroke="#fff" stroke-width="1.25" stroke-linejoin="round" textLength="48.5" lengthAdjust="spacingAndGlyphs" >10</text>
<rect x="2126.0" y="1592.0" width="10.2" height="3" fill="#fff"/>
<text x="2067.47" y="1610.1" font-size="44.6" text-anchor="start" font-weight="normal" fill="#fff" stroke="#fff" stroke-width="1.25" stroke-linejoin="round" textLength="45.9" lengthAdjust="spacingAndGlyphs" >15</text>
<rect x="2126.0" y="1395.0" width="10.2" height="3" fill="#fff"/>
<text x="2063.18" y="1413.1" font-size="44.6" text-anchor="start" font-weight="normal" fill="#fff" stroke="#fff" stroke-width="1.25" stroke-linejoin="round" textLength="50.2" lengthAdjust="spacingAndGlyphs" >20</text>
<rect x="2126.0" y="1199.0" width="10.2" height="3" fill="#fff"/>
<text x="2065.38" y="1217.1" font-size="44.6" text-anchor="start" font-weight="normal" fill="#fff" stroke="#fff" stroke-width="1.25" stroke-linejoin="round" textLength="48.0" lengthAdjust="spacingAndGlyphs" >25</text>
<rect x="2126.0" y="1002.0" width="10.2" height="3" fill="#fff"/>
<text x="2062.33" y="1020.1" font-size="44.6" text-anchor="start" font-weight="normal" fill="#fff" stroke="#fff" stroke-width="1.25" stroke-linejoin="round" textLength="51.2" lengthAdjust="spacingAndGlyphs" >30</text>
<rect x="2126.0" y="805.0" width="10.2" height="3" fill="#fff"/>
<text x="2064.61" y="823.1" font-size="44.6" text-anchor="start" font-weight="normal" fill="#fff" stroke="#fff" stroke-width="1.25" stroke-linejoin="round" textLength="48.8" lengthAdjust="spacingAndGlyphs" >35</text>
<rect x="2126.0" y="608.0" width="10.2" height="3" fill="#fff"/>
<text x="2060.31" y="626.1" font-size="44.6" text-anchor="start" font-weight="normal" fill="#fff" stroke="#fff" stroke-width="1.25" stroke-linejoin="round" textLength="53.2" lengthAdjust="spacingAndGlyphs" >40</text>
<rect x="2126.0" y="412.0" width="10.2" height="3" fill="#fff"/>
<text x="2062.60" y="430.1" font-size="44.6" text-anchor="start" font-weight="normal" fill="#fff" stroke="#fff" stroke-width="1.25" stroke-linejoin="round" textLength="50.9" lengthAdjust="spacingAndGlyphs" >45</text>
<rect x="2126.0" y="215.0" width="10.2" height="3" fill="#fff"/>
<text x="2061.46" y="233.1" font-size="44.6" text-anchor="start" font-weight="normal" fill="#fff" stroke="#fff" stroke-width="1.25" stroke-linejoin="round" textLength="51.9" lengthAdjust="spacingAndGlyphs" >50</text>
<rect x="2248.0" y="1871.0" width="3" height="11.2" fill="#fff"/>
<text x="2187.60" y="1927.4" font-size="44.6" text-anchor="start" font-weight="normal" fill="#fff" stroke="#fff" stroke-width="1.25" stroke-linejoin="round" textLength="121.2" lengthAdjust="spacingAndGlyphs" >0.000</text>
<rect x="2470.0" y="1871.0" width="3" height="11.2" fill="#fff"/>
<text x="2412.02" y="1927.4" font-size="44.6" text-anchor="start" font-weight="normal" fill="#fff" stroke="#fff" stroke-width="1.25" stroke-linejoin="round" textLength="117.0" lengthAdjust="spacingAndGlyphs" >0.002</text>
<rect x="2693.0" y="1871.0" width="3" height="11.2" fill="#fff"/>
<text x="2632.90" y="1927.4" font-size="44.6" text-anchor="start" font-weight="normal" fill="#fff" stroke="#fff" stroke-width="1.25" stroke-linejoin="round" textLength="120.1" lengthAdjust="spacingAndGlyphs" >0.004</text>
<rect x="2915.0" y="1871.0" width="3" height="11.2" fill="#fff"/>
<text x="2855.15" y="1927.4" font-size="44.6" text-anchor="start" font-weight="normal" fill="#fff" stroke="#fff" stroke-width="1.25" stroke-linejoin="round" textLength="120.8" lengthAdjust="spacingAndGlyphs" >0.006</text>
<rect x="3137.0" y="1871.0" width="3" height="11.2" fill="#fff"/>
<text x="3076.90" y="1927.4" font-size="44.6" text-anchor="start" font-weight="normal" fill="#fff" stroke="#fff" stroke-width="1.25" stroke-linejoin="round" textLength="120.9" lengthAdjust="spacingAndGlyphs" >0.008</text>
<rect x="3359.0" y="1871.0" width="3" height="11.2" fill="#fff"/>
<text x="3301.04" y="1927.4" font-size="44.6" text-anchor="start" font-weight="normal" fill="#fff" stroke="#fff" stroke-width="1.25" stroke-linejoin="round" textLength="116.7" lengthAdjust="spacingAndGlyphs" >0.010</text>
<text x="854.01" y="2001.2" font-size="57.0" text-anchor="start" font-weight="normal" fill="#fff" stroke="#fff" stroke-width="1.60" stroke-linejoin="round" textLength="212.9" lengthAdjust="spacingAndGlyphs" >Aerosol</text>
<text x="1088.96" y="2001.2" font-size="57.0" text-anchor="start" font-weight="normal" fill="#fff" stroke="#fff" stroke-width="1.60" stroke-linejoin="round" textLength="287.2" lengthAdjust="spacingAndGlyphs" >Extinction</text>
<text x="1393.65" y="2001.2" font-size="57.0" text-anchor="start" font-weight="normal" fill="#fff" stroke="#fff" stroke-width="1.60" stroke-linejoin="round" textLength="318.9" lengthAdjust="spacingAndGlyphs" >Coefficient</text>
<text x="1186.71" y="2076.3" font-size="55.4" text-anchor="start" font-weight="normal" fill="#fff" stroke="#fff" stroke-width="1.55" stroke-linejoin="round" textLength="19.2" lengthAdjust="spacingAndGlyphs" >[</text><text x="1210.27" y="2076.4" font-size="58.5" text-anchor="start" font-weight="normal" fill="#fff" stroke="#fff" stroke-width="1.64" stroke-linejoin="round" textLength="88.5" lengthAdjust="spacingAndGlyphs" >km</text><text x="1303.18" y="2057.7" font-size="41" text-anchor="start" font-weight="normal" fill="#fff" textLength="30.2" lengthAdjust="spacingAndGlyphs" font-family="'Liberation Serif', serif">−</text><text x="1333.89" y="2055.3" font-size="41" text-anchor="start" font-weight="normal" fill="#fff" textLength="20.2" lengthAdjust="spacingAndGlyphs" font-family="'Liberation Serif', serif">1</text><text x="1363.34" y="2076.3" font-size="55.4" text-anchor="start" font-weight="normal" fill="#fff" stroke="#fff" stroke-width="1.55" stroke-linejoin="round" textLength="19.1" lengthAdjust="spacingAndGlyphs" >]</text>
<text x="2320.53" y="2001.2" font-size="57.0" text-anchor="start" font-weight="normal" fill="#fff" stroke="#fff" stroke-width="1.60" stroke-linejoin="round" textLength="213.0" lengthAdjust="spacingAndGlyphs" >Aerosol</text>
<text x="2555.42" y="2001.2" font-size="57.0" text-anchor="start" font-weight="normal" fill="#fff" stroke="#fff" stroke-width="1.60" stroke-linejoin="round" textLength="287.2" lengthAdjust="spacingAndGlyphs" >Extinction</text>
<text x="2860.21" y="2001.2" font-size="57.0" text-anchor="start" font-weight="normal" fill="#fff" stroke="#fff" stroke-width="1.60" stroke-linejoin="round" textLength="318.9" lengthAdjust="spacingAndGlyphs" >Coefficient</text>
<text x="2653.07" y="2076.3" font-size="55.4" text-anchor="start" font-weight="normal" fill="#fff" stroke="#fff" stroke-width="1.55" stroke-linejoin="round" textLength="19.2" lengthAdjust="spacingAndGlyphs" >[</text><text x="2676.82" y="2076.4" font-size="58.5" text-anchor="start" font-weight="normal" fill="#fff" stroke="#fff" stroke-width="1.64" stroke-linejoin="round" textLength="88.5" lengthAdjust="spacingAndGlyphs" >km</text><text x="2769.67" y="2057.7" font-size="41" text-anchor="start" font-weight="normal" fill="#fff" textLength="30.2" lengthAdjust="spacingAndGlyphs" font-family="'Liberation Serif', serif">−</text><text x="2800.45" y="2055.3" font-size="41" text-anchor="start" font-weight="normal" fill="#fff" textLength="20.3" lengthAdjust="spacingAndGlyphs" font-family="'Liberation Serif', serif">1</text><text x="2829.84" y="2076.3" font-size="55.4" text-anchor="start" font-weight="normal" fill="#fff" stroke="#fff" stroke-width="1.55" stroke-linejoin="round" textLength="19.0" lengthAdjust="spacingAndGlyphs" >]</text>
<text transform="translate(558.7,1041.6) rotate(-90)" font-size="57.0" fill="#fff" stroke="#fff" stroke-width="1.2" stroke-linejoin="round" text-anchor="middle" textLength="381" lengthAdjust="spacingAndGlyphs">Altitude [km]</text>
<text transform="translate(2024.2,1041.6) rotate(-90)" font-size="57.0" fill="#fff" stroke="#fff" stroke-width="1.2" stroke-linejoin="round" text-anchor="middle" textLength="381" lengthAdjust="spacingAndGlyphs">Altitude [km]</text>
<rect x="22.5" y="877.5" width="415.6" height="660" rx="7" fill="#000" stroke="#b0b0b0" stroke-width="3.2"/>
<rect x="32.8" y="903.9" width="90.2" height="10" fill="#0c4265"/>
<text x="150.72" y="923.3" font-size="38.4" text-anchor="start" font-weight="normal" fill="#fff" stroke="#fff" stroke-width="1.08" stroke-linejoin="round" textLength="269.4" lengthAdjust="spacingAndGlyphs" >2021112503SR</text>
<rect x="32.8" y="962.9" width="90.2" height="10" fill="#0c4a70"/>
<text x="150.66" y="982.3" font-size="38.4" text-anchor="start" font-weight="normal" fill="#fff" stroke="#fff" stroke-width="1.08" stroke-linejoin="round" textLength="270.5" lengthAdjust="spacingAndGlyphs" >2021112506SR</text>
<rect x="32.8" y="1021.9" width="90.2" height="10" fill="#0d517b"/>
<text x="150.66" y="1041.3" font-size="38.4" text-anchor="start" font-weight="normal" fill="#fff" stroke="#fff" stroke-width="1.08" stroke-linejoin="round" textLength="270.5" lengthAdjust="spacingAndGlyphs" >2021112509SR</text>
<rect x="32.8" y="1080.9" width="90.2" height="10" fill="#0d5986"/>
<text x="150.58" y="1100.3" font-size="38.4" text-anchor="start" font-weight="normal" fill="#fff" stroke="#fff" stroke-width="1.08" stroke-linejoin="round" textLength="265.2" lengthAdjust="spacingAndGlyphs" >2021112512SR</text>
<rect x="32.8" y="1139.9" width="90.2" height="10" fill="#0d6191"/>
<text x="150.58" y="1159.3" font-size="38.4" text-anchor="start" font-weight="normal" fill="#fff" stroke="#fff" stroke-width="1.08" stroke-linejoin="round" textLength="266.1" lengthAdjust="spacingAndGlyphs" >2021112515SR</text>
<rect x="32.8" y="1198.9" width="90.2" height="10" fill="#0e689c"/>
<text x="150.66" y="1218.3" font-size="38.4" text-anchor="start" font-weight="normal" fill="#fff" stroke="#fff" stroke-width="1.08" stroke-linejoin="round" textLength="270.5" lengthAdjust="spacingAndGlyphs" >2021112520SR</text>
<rect x="32.8" y="1257.9" width="90.2" height="10" fill="#0e70a8"/>
<text x="150.57" y="1277.3" font-size="38.4" text-anchor="start" font-weight="normal" fill="#fff" stroke="#fff" stroke-width="1.08" stroke-linejoin="round" textLength="267.0" lengthAdjust="spacingAndGlyphs" >2021112523SR</text>
<rect x="32.8" y="1316.9" width="90.2" height="10" fill="#0e78b3"/>
<text x="150.73" y="1336.3" font-size="38.4" text-anchor="start" font-weight="normal" fill="#fff" stroke="#fff" stroke-width="1.08" stroke-linejoin="round" textLength="268.2" lengthAdjust="spacingAndGlyphs" >2021112526SR</text>
<rect x="32.8" y="1375.9" width="90.2" height="10" fill="#0e80be"/>
<text x="150.73" y="1395.3" font-size="38.4" text-anchor="start" font-weight="normal" fill="#fff" stroke="#fff" stroke-width="1.08" stroke-linejoin="round" textLength="268.2" lengthAdjust="spacingAndGlyphs" >2021112529SR</text>
<rect x="32.8" y="1434.9" width="90.2" height="10" fill="#0f87c9"/>
<text x="150.57" y="1454.3" font-size="38.4" text-anchor="start" font-weight="normal" fill="#fff" stroke="#fff" stroke-width="1.08" stroke-linejoin="round" textLength="267.0" lengthAdjust="spacingAndGlyphs" >2021112532SR</text>
<rect x="32.8" y="1493.9" width="90.2" height="10" fill="#0f8fd4"/>
<text x="150.56" y="1513.3" font-size="38.4" text-anchor="start" font-weight="normal" fill="#fff" stroke="#fff" stroke-width="1.08" stroke-linejoin="round" textLength="267.9" lengthAdjust="spacingAndGlyphs" >2021112535SR</text>
<rect x="3380.5" y="848.1" width="413.3000000000002" height="718.4" rx="7" fill="#000" stroke="#b0b0b0" stroke-width="3.2"/>
<rect x="3391" y="874.0" width="90" height="10" fill="#3e0808"/>
<text x="3508.70" y="893.4" font-size="38.4" text-anchor="start" font-weight="normal" fill="#fff" stroke="#fff" stroke-width="1.08" stroke-linejoin="round" textLength="267.4" lengthAdjust="spacingAndGlyphs" >2021112502SS</text>
<rect x="3391" y="933.0" width="90" height="10" fill="#4e100e"/>
<text x="3508.69" y="952.4" font-size="38.4" text-anchor="start" font-weight="normal" fill="#fff" stroke="#fff" stroke-width="1.08" stroke-linejoin="round" textLength="268.2" lengthAdjust="spacingAndGlyphs" >2021112505SS</text>
<rect x="3391" y="992.0" width="90" height="10" fill="#5d1715"/>
<text x="3508.66" y="1011.4" font-size="38.4" text-anchor="start" font-weight="normal" fill="#fff" stroke="#fff" stroke-width="1.08" stroke-linejoin="round" textLength="268.7" lengthAdjust="spacingAndGlyphs" >2021112508SS</text>
<rect x="3391" y="1051.0" width="90" height="10" fill="#6d1f1b"/>
<text x="3508.58" y="1070.4" font-size="38.4" text-anchor="start" font-weight="normal" fill="#fff" stroke="#fff" stroke-width="1.08" stroke-linejoin="round" textLength="261.1" lengthAdjust="spacingAndGlyphs" >2021112511SS</text>
<rect x="3391" y="1110.0" width="90" height="10" fill="#7d2721"/>
<text x="3508.52" y="1129.4" font-size="38.4" text-anchor="start" font-weight="normal" fill="#fff" stroke="#fff" stroke-width="1.08" stroke-linejoin="round" textLength="266.4" lengthAdjust="spacingAndGlyphs" >2021112514SS</text>
<rect x="3391" y="1169.0" width="90" height="10" fill="#8c2e28"/>
<text x="3508.62" y="1188.4" font-size="38.4" text-anchor="start" font-weight="normal" fill="#fff" stroke="#fff" stroke-width="1.08" stroke-linejoin="round" textLength="262.5" lengthAdjust="spacingAndGlyphs" >2021112517SS</text>
<rect x="3391" y="1228.0" width="90" height="10" fill="#9c362e"/>
<text x="3508.59" y="1247.4" font-size="38.4" text-anchor="start" font-weight="normal" fill="#fff" stroke="#fff" stroke-width="1.08" stroke-linejoin="round" textLength="263.1" lengthAdjust="spacingAndGlyphs" >2021112519SS</text>
<rect x="3391" y="1287.0" width="90" height="10" fill="#ab3d35"/>
<text x="3508.55" y="1306.4" font-size="38.4" text-anchor="start" font-weight="normal" fill="#fff" stroke="#fff" stroke-width="1.08" stroke-linejoin="round" textLength="265.4" lengthAdjust="spacingAndGlyphs" >2021112522SS</text>
<rect x="3391" y="1346.0" width="90" height="10" fill="#bb453b"/>
<text x="3508.52" y="1365.4" font-size="38.4" text-anchor="start" font-weight="normal" fill="#fff" stroke="#fff" stroke-width="1.08" stroke-linejoin="round" textLength="265.9" lengthAdjust="spacingAndGlyphs" >2021112525SS</text>
<rect x="3391" y="1405.0" width="90" height="10" fill="#cb4d41"/>
<text x="3508.72" y="1424.4" font-size="38.4" text-anchor="start" font-weight="normal" fill="#fff" stroke="#fff" stroke-width="1.08" stroke-linejoin="round" textLength="266.6" lengthAdjust="spacingAndGlyphs" >2021112528SS</text>
<rect x="3391" y="1464.0" width="90" height="10" fill="#da5448"/>
<text x="3508.62" y="1483.4" font-size="38.4" text-anchor="start" font-weight="normal" fill="#fff" stroke="#fff" stroke-width="1.08" stroke-linejoin="round" textLength="262.5" lengthAdjust="spacingAndGlyphs" >2021112531SS</text>
<rect x="3391" y="1523.0" width="90" height="10" fill="#ea5c4e"/>
<text x="3508.70" y="1542.4" font-size="38.4" text-anchor="start" font-weight="normal" fill="#fff" stroke="#fff" stroke-width="1.08" stroke-linejoin="round" textLength="267.2" lengthAdjust="spacingAndGlyphs" >2021112534SS</text>
<line x1="39.6" x2="120" y1="1980.1" y2="1980.1" stroke="#fff" stroke-width="10.4" stroke-dasharray="37.3 16.3"/>
<line x1="39.6" x2="120" y1="2040" y2="2040" stroke="#fff" stroke-width="10.4" stroke-dasharray="10.4 16.4"/>
<rect x="40" y="2085.3" width="80.7" height="28.4" fill="#696c71" stroke="#9c9ea2" stroke-width="2.2"/>
<text x="151.91" y="1993.4" font-size="40.3" text-anchor="start" font-weight="normal" fill="#fff" stroke="#fff" stroke-width="1.13" stroke-linejoin="round" textLength="349.2" lengthAdjust="spacingAndGlyphs" >Mean Tropopause</text>
<text x="151.90" y="2053.0" font-size="40.3" text-anchor="start" font-weight="normal" fill="#fff" stroke="#fff" stroke-width="1.13" stroke-linejoin="round" textLength="385.1" lengthAdjust="spacingAndGlyphs" >Median Tropopause</text>
<text x="153.53" y="2112.9" font-size="40.3" text-anchor="start" font-weight="normal" fill="#fff" stroke="#fff" stroke-width="1.13" stroke-linejoin="round" textLength="366.3" lengthAdjust="spacingAndGlyphs" >Tropopause Range</text>
<text x="3268.10" y="2038.5" font-size="32.1" text-anchor="start" font-weight="normal" fill="#8a8a8a" stroke="#8a8a8a" stroke-width="0.90" stroke-linejoin="round" textLength="82.3" lengthAdjust="spacingAndGlyphs" >SAGE</text>
<text x="3367.18" y="2038.5" font-size="31.6" text-anchor="start" font-weight="normal" fill="#8a8a8a" stroke="#8a8a8a" stroke-width="0.80" stroke-linejoin="round" textLength="47.2" lengthAdjust="spacingAndGlyphs" font-family="'DejaVu Sans Mono', monospace">III</text><text x="3411.92" y="2038.5" font-size="31.6" text-anchor="start" font-weight="normal" fill="#8a8a8a" stroke="#8a8a8a" stroke-width="0.80" stroke-linejoin="round" textLength="25.5" lengthAdjust="spacingAndGlyphs" font-family="'DejaVu Sans Mono', monospace">/</text><text x="3434.38" y="2038.5" font-size="31.6" text-anchor="start" font-weight="normal" fill="#8a8a8a" stroke="#8a8a8a" stroke-width="0.80" stroke-linejoin="round" textLength="16.2" lengthAdjust="spacingAndGlyphs" font-family="'DejaVu Sans Mono', monospace">I</text><text x="3449.95" y="2038.5" font-size="32.1" text-anchor="start" font-weight="normal" fill="#8a8a8a" stroke="#8a8a8a" stroke-width="0.90" stroke-linejoin="round" textLength="38.9" lengthAdjust="spacingAndGlyphs" >SS</text>
<text x="3499.73" y="2038.5" font-size="32.6" text-anchor="start" font-weight="normal" fill="#8a8a8a" stroke="#8a8a8a" stroke-width="0.91" stroke-linejoin="round" textLength="119.4" lengthAdjust="spacingAndGlyphs" >Mission</text>
<text x="3627.99" y="2038.5" font-size="32.1" text-anchor="start" font-weight="normal" fill="#8a8a8a" stroke="#8a8a8a" stroke-width="0.90" stroke-linejoin="round" textLength="7.8" lengthAdjust="spacingAndGlyphs" >|</text>
<text x="3646.48" y="2038.5" font-size="32.1" text-anchor="start" font-weight="normal" fill="#8a8a8a" stroke="#8a8a8a" stroke-width="0.90" stroke-linejoin="round" textLength="91.7" lengthAdjust="spacingAndGlyphs" >NASA</text>
<text x="3750.13" y="2038.5" font-size="32.1" text-anchor="start" font-weight="normal" fill="#8a8a8a" stroke="#8a8a8a" stroke-width="0.90" stroke-linejoin="round" textLength="88.5" lengthAdjust="spacingAndGlyphs" >LaRC</text>
<text x="3311.70" y="2076.2" font-size="32.6" text-anchor="start" font-weight="normal" fill="#8a8a8a" stroke="#8a8a8a" stroke-width="0.91" stroke-linejoin="round" textLength="528.2" lengthAdjust="spacingAndGlyphs" >Preparer: Kevin R. Leavor (AMA)</text>
<text x="3390.13" y="2113.0" font-size="32.5" text-anchor="start" font-weight="normal" fill="#8a8a8a" stroke="#8a8a8a" stroke-width="0.91" stroke-linejoin="round" textLength="448.9" lengthAdjust="spacingAndGlyphs" >Generated 2025-07-17 22:25</text>
<text x="3533.44" y="2150.3" font-size="32.6" text-anchor="start" font-weight="normal" fill="#8a8a8a" stroke="#8a8a8a" stroke-width="0.91" stroke-linejoin="round" textLength="305.5" lengthAdjust="spacingAndGlyphs" >Data Version: 6.0.0</text>
<g id="logo">
<path d="M3494,50 A32,32 0 0 1 3526,18 L3798,18 A32,32 0 0 1 3830,50 L3830,223.4 A168,168 0 0 1 3494,223.4 Z" fill="#e4574a"/>
<path d="M3501,50 A25,25 0 0 1 3526,25 L3798,25 A25,25 0 0 1 3823,50 L3823,223.4 A161,161 0 0 1 3501,223.4 Z" fill="#0b4f87"/>
<clipPath id="shclip"><path d="M3501,50 A25,25 0 0 1 3526,25 L3798,25 A25,25 0 0 1 3823,50 L3823,223.4 A161,161 0 0 1 3501,223.4 Z"/></clipPath>
<circle cx="3663.0" cy="219.0" r="133.05" fill="none" stroke="#c9cdd8" stroke-width="14.500000000000014"/>
<clipPath id="ringclip"><circle cx="3663.0" cy="219.0" r="125.8"/></clipPath>
<g clip-path="url(#ringclip)">
<circle cx="3145.7" cy="627.4" r="665.8000000000001" fill="none" stroke="#1668a6" stroke-width="12.4"/>
<clipPath id="earthclip"><circle cx="3145.7" cy="627.4" r="659.6"/></clipPath>
<g clip-path="url(#earthclip)">
<path fill="#5da56b" d="M3562.4,170.7 L3616.2,178.3 L3631.4,184.5 L3648.0,205.2 L3654.9,214.9 L3663.2,221.8 L3665.2,232.8 L3664.5,246.6 L3667.3,257.7 L3670.7,267.3 L3664.5,260.4 L3656.3,259.0 L3648.0,264.6 L3642.4,274.2 L3643.1,288.0 L3649.4,299.1 L3656.3,303.2 L3663.2,294.9 L3665.2,286.6 L3667.3,294.9 L3672.8,301.8 L3678.3,308.7 L3686.6,312.9 L3692.8,308.7 L3694.9,301.8 L3700.4,294.9 L3708.7,290.8 L3714.9,296.3 L3741.8,329.4 L3714.2,357.0 L3694.9,343.2 L3693.5,315.6 L3686.6,315.6 L3679.7,312.9 L3667.3,310.1 L3656.3,311.5 L3645.2,312.9 L3635.5,301.8 L3624.5,294.9 L3612.1,289.4 L3607.9,289.4 L3562.4,289.4 Z"/>
<path fill="#0b4f87" d="M3620.4,201.1 L3625.9,202.4 L3631.4,208.0 L3636.9,205.2 L3645.2,205.2 L3650.7,209.4 L3649.4,219.0 L3645.2,214.9 L3642.4,221.8 L3638.3,216.3 L3635.5,224.5 L3631.4,214.9 L3625.9,212.1 L3621.7,208.0 Z"/>
<path fill="#0b4f87" d="M3658.7,221.1 L3663.2,227.3 L3660.7,229.0 L3657.6,224.5 Z"/>
</g>
<circle cx="3145.7" cy="627.4" r="659.6" fill="none" stroke="#eaf2fb" stroke-width="1.3"/>
<g stroke="#eaf2fb" stroke-width="1.3" fill="none">
<path d="M3656.2,159 L3714.9,191.4 M3645.2,166.6 L3714.9,191.4"/>
<path d="M3714.9,191.4 L3670,225.9 M3714.9,191.4 L3674.9,232.8"/>
<path d="M3714.9,191.4 L3723.2,259 M3714.9,191.4 L3733.5,257"/>
</g>
<circle cx="3637.4" cy="144.1" r="23.7" fill="#d6d9e1"/>
<circle cx="3639.4" cy="142.6" r="21.6" fill="#fff"/>
<path fill="#c4c7cf" d="M3622,136 q3,-8 11,-11 q9,-3 17,2 q6,4 7,11 q-3,5 -7,3 q-2,4 1,7 q-1,5 -6,5 q-4,-2 -4,-6 q-4,3 -8,0 q-2,-4 1,-7 q-5,1 -8,-1 q-3,-1 -4,-3z"/>
<path fill="#fff" d="M3630,128 l2,2 l3,-1 l-1,3 l2,2 l-3,0 l-2,3 l-1,-3 l-3,-1 l3,-2z M3641,137 q4,-2 6,1 q0,3 -4,3 q-3,-1 -2,-4z"/>
<clipPath id="sunclip"><circle cx="3735.3" cy="280.8" r="23.4"/></clipPath>
<circle cx="3735.3" cy="280.8" r="23.4" fill="#cfd2dc"/>
<circle cx="3740.0" cy="276.6" r="23.8" fill="#fde2a2" clip-path="url(#sunclip)"/>
<path fill="#fff3d0" d="M3693.6,107.3 L3694.796,115.304 L3702.7999999999997,116.5 L3694.796,117.696 L3693.6,125.7 L3692.404,117.696 L3684.4,116.5 L3692.404,115.304 Z"/>
<circle cx="3693.6" cy="116.5" r="2.024" fill="#fdd27a"/>
<path fill="#fff" d="M3680.3,121.9 L3681.0280000000002,126.772 L3685.9,127.5 L3681.0280000000002,128.228 L3680.3,133.1 L3679.572,128.228 L3674.7000000000003,127.5 L3679.572,126.772 Z"/>
<path fill="#fff" d="M3703.5,126.7 L3704.046,130.354 L3707.7,130.9 L3704.046,131.446 L3703.5,135.1 L3702.954,131.446 L3699.3,130.9 L3702.954,130.354 Z"/>
<g transform="translate(3728.3,181) rotate(46.8) scale(0.87)">
<rect x="-27.00" y="-21" width="2.30" height="19" fill="#cfd0d2"/>
<rect x="-23.43" y="-21" width="2.30" height="19" fill="#cfd0d2"/>
<rect x="-19.87" y="-21" width="2.30" height="19" fill="#cfd0d2"/>
<rect x="-16.30" y="-21" width="2.30" height="19" fill="#cfd0d2"/>
<rect x="-34.00" y="2" width="2.30" height="19" fill="#cfd0d2"/>
<rect x="-30.43" y="2" width="2.30" height="19" fill="#cfd0d2"/>
<rect x="-26.87" y="2" width="2.30" height="19" fill="#cfd0d2"/>
<rect x="-23.30" y="2" width="2.30" height="19" fill="#cfd0d2"/>
<rect x="21.00" y="-21" width="2.30" height="19" fill="#cfd0d2"/>
<rect x="24.57" y="-21" width="2.30" height="19" fill="#cfd0d2"/>
<rect x="28.13" y="-21" width="2.30" height="19" fill="#cfd0d2"/>
<rect x="31.70" y="-21" width="2.30" height="19" fill="#cfd0d2"/>
<rect x="14.00" y="2" width="2.30" height="19" fill="#cfd0d2"/>
<rect x="17.57" y="2" width="2.30" height="19" fill="#cfd0d2"/>
<rect x="21.13" y="2" width="2.30" height="19" fill="#cfd0d2"/>
<rect x="24.70" y="2" width="2.30" height="19" fill="#cfd0d2"/>
<rect x="-30" y="-1.1" width="60" height="2.2" fill="#cfd0d2"/>
<rect x="-8" y="-8" width="1.5" height="14" fill="#cfd0d2"/>
<rect x="-3" y="-8" width="1.5" height="14" fill="#cfd0d2"/>
<rect x="2" y="-8" width="1.5" height="14" fill="#cfd0d2"/>
<rect x="7" y="-8" width="1.5" height="14" fill="#cfd0d2"/>
<rect x="-10" y="-5.5" width="12" height="1.4" fill="#cfd0d2"/><rect x="-6" y="3.2" width="14" height="1.4" fill="#cfd0d2"/>
</g>
</g>
<g clip-path="url(#shclip)">
<path fill="#9e2b22" d="M3543,158 L3528,166 L3520,182 L3514,206 L3508,226 L3501,243 L3520,236 L3534,222 L3541,200 L3546,176 Z"/>
<path fill="#d9503f" d="M3543,156 L3530,163 L3523,176 L3519,192 L3514,214 L3506,236 L3512,236 L3520,220 L3526,196 L3533,178 L3545,166 Z"/>
<path fill="#d9503f" d="M3546,154 L3560,149 L3580,156 L3606,186 L3609,200 L3606,215 L3607,260 L3606,333 L3590,326 L3572,312 L3560,296 L3552,276 L3545,252 L3540,236 L3543,222 L3549,206 L3546,192 L3540,180 Z"/>
<path fill="#9e2b22" d="M3549,226 L3555,222 L3560,250 L3566,290 L3572,312 L3562,298 L3553,274 Z M3572,228 L3577,228 L3581,270 L3588,322 L3582,318 L3576,280 Z M3592,230 L3597,232 L3600,280 L3603,330 L3597,326 L3595,280 Z"/>
<path fill="#9e2b22" d="M3556,160 L3572,166 L3580,184 L3590,196 L3604,198 L3600,204 L3584,204 L3570,196 L3560,182 Z"/>
<path fill="#8a4a1e" d="M3554,207 L3566,212 L3586,217 L3602,218 L3602,224 L3586,223 L3565,218 L3553,213 Z"/>
<path fill="#c9803c" stroke="#6b2a16" stroke-width="1.6" d="M3586,217 L3593,213 L3601,216 L3602,225 L3595,231 L3587,228 Z"/>
<text x="3594" y="226.2" font-family="Liberation Serif, serif" font-size="11" font-weight="bold" font-style="italic" text-anchor="middle" fill="#6b2a16">S</text>
<path fill="#8c2a20" d="M3606,168 L3616,171 L3612,190 L3603,188 Z"/><path fill="#c0703a" d="M3612,171 L3618,173 L3614,191 L3610,189 Z"/>
<circle cx="3611" cy="186" r="4.6" fill="#e3a562"/>
<path fill="#e3a562" d="M3580.0,140.2 L3586.1,135.1 L3592.7,133.9 L3599.3,136.2 L3601.7,141.9 L3601.0,147.4 L3602.9,152.1 L3600.4,154.3 L3600.4,156.7 L3586.1,155.6 L3580.3,154.5 L3578.1,147.4 Z"/>
<path fill="#fff" d="M3560.7,141.9 L3567.3,136.4 L3578.3,130.9 L3589.4,128.1 L3600.4,129.8 L3605.9,136.4 L3604.8,140.8 L3599.3,136.4 L3592.7,134.2 L3586.1,135.3 L3580.5,139.7 L3578.3,147.4 L3580.5,154.0 L3586.1,155.2 L3600.4,156.3 L3601.0,160.7 L3599.3,167.3 L3600.4,173.9 L3597.1,183.9 L3591.6,189.4 L3586.1,187.2 L3581.7,178.3 L3578.3,167.3 L3571.7,160.7 L3565.1,151.8 Z"/>
<path fill="#e3a562" d="M3580.0,140.2 L3586.1,135.1 L3592.7,133.9 L3599.3,136.2 L3601.7,141.9 L3601.0,147.4 L3602.9,152.1 L3600.4,154.3 L3600.4,156.7 L3586.1,155.6 L3580.3,154.5 L3578.1,147.4 Z"/>
<path fill="#fff" d="M3585.0,154.6 L3600.8,156.0 L3600.8,160.7 L3593.8,159.0 L3587.2,159.6 Z"/>
<path fill="#fff" d="M3578.3,147.4 L3581.7,138.6 L3586.1,135.3 L3589.4,134.2 L3586.1,139.7 L3583.9,147.4 L3585.0,155.2 L3580.5,154.0 Z"/>
<path fill="#5a3420" d="M3592.1,142.8 L3600.4,144.8 L3600.4,146.1 L3592.1,144.1 Z"/>
<path fill="#c98a4c" d="M3589.4,148.5 L3593.8,147.4 L3596.0,151.8 L3591.6,153.5 Z"/>
<path fill="none" stroke="#b8642c" stroke-width="4.6" stroke-linecap="round" d="M3534,123 L3542,175 L3546,200 L3552,250 L3557,286 L3559,300"/>
<path fill="none" stroke="#dd9a5a" stroke-width="1.4" d="M3535.4,123 L3543.4,175 L3547.4,200 L3553.4,250 L3558.4,286"/>
<circle cx="3532.5" cy="113.7" r="10.5" fill="#fff"/><circle cx="3533.6" cy="113.2" r="8.8" fill="#c9cdd8"/>
<path fill="#e3a562" d="M3530,176 L3538,171 L3547,172 L3549,180 L3546,188 L3540,194 L3534,190 L3529,184 Z"/>
</g>
<path id="arcbot" d="M3507.46,257.18 A158.6,158.6 0 0 0 3820.21,232.56" fill="none"/>
<text font-size="12" font-weight="bold" fill="#fff" textLength="451.2" lengthAdjust="spacingAndGlyphs"><textPath href="#arcbot" startOffset="0">BALL • NASA LANGLEY RESEARCH CENTER • TAS-I • ESA</textPath></text>
</g>
<text x="3526.48" y="59.1" font-size="42" text-anchor="start" font-weight="bold" fill="#fff" textLength="112.2" lengthAdjust="spacingAndGlyphs" font-family="'Liberation Serif', serif">SAGE</text>
<text x="3651.65" y="59.1" font-size="42" text-anchor="start" font-weight="bold" fill="#fff" textLength="49.8" lengthAdjust="spacingAndGlyphs" font-family="'Liberation Serif', serif">III</text>
<text x="3710.32" y="57.1" font-size="31" text-anchor="start" font-weight="bold" fill="#fff" textLength="11.4" lengthAdjust="spacingAndGlyphs" font-family="'Liberation Serif', serif">•</text>
<text x="3731.44" y="59.1" font-size="42" text-anchor="start" font-weight="bold" fill="#fff" textLength="63.4" lengthAdjust="spacingAndGlyphs" font-family="'Liberation Serif', serif">ISS</text>
<text x="3527.17" y="71.5" font-size="7.4" text-anchor="start" font-weight="normal" fill="#e4ebf3" stroke="#e4ebf3" stroke-width="0.15" stroke-linejoin="round" textLength="174.2" lengthAdjust="spacingAndGlyphs" >Stratospheric Aerosol and Gas Experiment III</text>
<text x="3735.89" y="71.5" font-size="7.4" text-anchor="start" font-weight="normal" fill="#e4ebf3" stroke="#e4ebf3" stroke-width="0.15" stroke-linejoin="round" textLength="54.3" lengthAdjust="spacingAndGlyphs" >International</text>
<text x="3732.74" y="82.8" font-size="7.4" text-anchor="start" font-weight="normal" fill="#e4ebf3" stroke="#e4ebf3" stroke-width="0.15" stroke-linejoin="round" textLength="60.6" lengthAdjust="spacingAndGlyphs" >Space Station</text>
</svg>
</body></html>
